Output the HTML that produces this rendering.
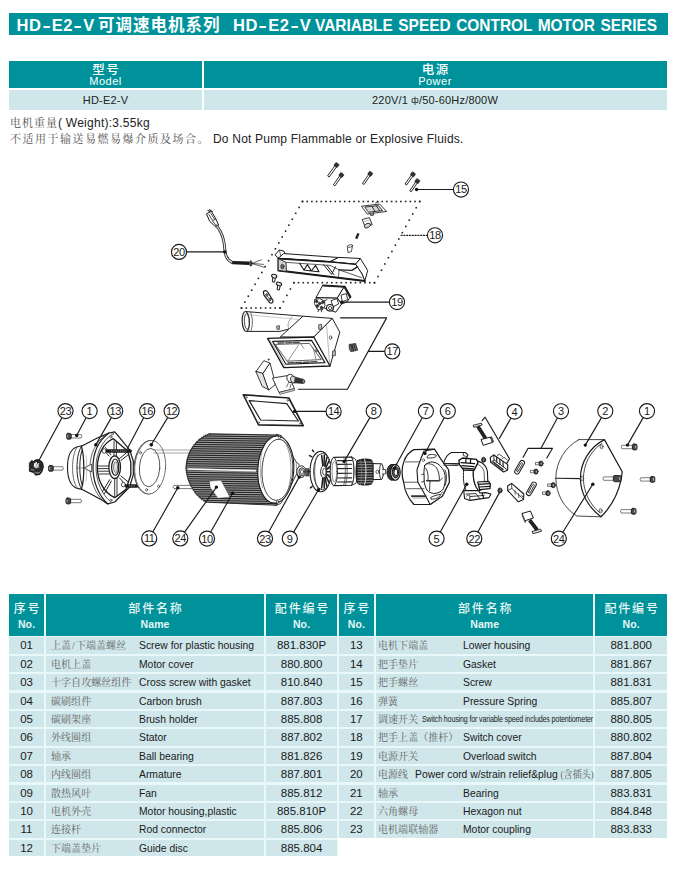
<!DOCTYPE html>
<html lang="zh">
<head>
<meta charset="utf-8">
<title>HD-E2-V</title>
<style>
html,body{margin:0;padding:0;background:#fff;}
body{width:684px;height:871px;position:relative;overflow:hidden;font-family:"Liberation Sans","Noto Sans CJK SC",sans-serif;color:#222;}
.abs{position:absolute;}
.teal{background:#00929a;}
.light{background:#cfe7ea;}
#title{left:9px;top:13px;width:659px;height:22px;}
#title span{position:absolute;top:0.5px;line-height:22px;font-size:16.5px;font-weight:bold;color:#fff;white-space:nowrap;}
#title i{font-style:normal;display:inline-block;transform:scaleX(1.5);margin:0 2px;}
#t1{left:7.5px;letter-spacing:0.6px;}
#t2{left:89px;letter-spacing:1px;font-size:16.5px;}
#t3{left:224px;letter-spacing:0.6px;}
#t4{left:306px;letter-spacing:0;word-spacing:1.2px;font-size:16px;transform-origin:0 50%;transform:scaleX(0.937);}
.nt{font-size:12px;line-height:15px;white-space:nowrap;color:#222;}
.nt.song{font-size:11px;color:#505050;}
.c{position:absolute;text-align:center;white-space:nowrap;}
.w{color:#fff;}
.song{font-family:"Liberation Serif","Noto Serif CJK SC",serif;color:#777;}
.hz{font-size:12px;line-height:16px;letter-spacing:1.8px;text-indent:1.8px;font-weight:500;color:#e6f7f7;}
.he{font-size:10.5px;line-height:14px;letter-spacing:0.1px;font-weight:bold;color:#e6f7f7;}
.tx{font-size:11.5px;line-height:17px;height:16.4px;white-space:nowrap;color:#1a1a1a;}
.tx.song,.tx .song{color:#646464;font-size:10px;letter-spacing:0.05px;}
.en{transform-origin:0 50%;transform:scaleX(0.9);}
.sm17{font-size:9px;letter-spacing:-0.2px;transform-origin:0 50%;transform:scaleX(0.79);}
#dg text{font-family:"Liberation Sans",sans-serif;}
</style>
</head>
<body>
<div id="title" class="abs teal"><span id="t1">HD<i>-</i>E2<i>-</i>V</span><span id="t2">可调速电机系列</span><span id="t3">HD<i>-</i>E2<i>-</i>V</span><span id="t4">VARIABLE SPEED CONTROL MOTOR SERIES</span></div>

<!-- spec table -->
<div class="abs teal" style="left:9px;top:61px;width:193px;height:27px;"></div>
<div class="abs teal" style="left:203.5px;top:61px;width:463.5px;height:27px;"></div>
<div class="abs light" style="left:9px;top:89.5px;width:193px;height:20.5px;"></div>
<div class="abs light" style="left:203.5px;top:89.5px;width:463.5px;height:20.5px;"></div>
<div class="c w" style="left:9px;width:193px;top:63px;font-size:12.5px;line-height:14px;letter-spacing:1.5px;text-indent:1.5px;font-weight:500;">型号</div>
<div class="c w" style="left:9px;width:193px;top:74.5px;font-size:11px;line-height:13px;letter-spacing:0.5px;">Model</div>
<div class="c w" style="left:203px;width:464px;top:63px;font-size:12.5px;line-height:14px;letter-spacing:1.5px;text-indent:1.5px;font-weight:500;">电源</div>
<div class="c w" style="left:203px;width:464px;top:74.5px;font-size:11px;line-height:13px;letter-spacing:0.5px;">Power</div>
<div class="c" style="left:9px;width:193px;top:91.7px;font-size:11px;line-height:16px;letter-spacing:0.2px;">HD-E2-V</div>
<div class="c" style="left:203px;width:464px;top:91.7px;font-size:11px;line-height:16px;letter-spacing:0.2px;">220V/1 <span style="font-size:9px;position:relative;top:-1px">ф</span>/50-60Hz/800W</div>

<div class="abs nt song" id="wt1" style="left:10px;top:116px;letter-spacing:1px;">电机重量</div>
<div class="abs nt" id="wt2" style="left:58px;top:116px;letter-spacing:0.25px;">( Weight):3.55kg</div>
<div class="abs nt song" id="dn1" style="left:10px;top:131.5px;letter-spacing:1.5px;">不适用于输送易燃易爆介质及场合。</div>
<div class="abs nt" id="dn2" style="left:213px;top:131.5px;letter-spacing:0.2px;">Do Not Pump Flammable or Explosive Fluids.</div>
<svg id="dg" class="abs" style="left:0;top:150px;" width="684" height="430" viewBox="0 150 684 430" fill="none" stroke="#333" stroke-width="0.8" stroke-linejoin="round" stroke-linecap="round">
<rect x="301.7" y="200.7" width="1.6" height="1.6" fill="#222" stroke="none"/>
<rect x="306.4" y="200.7" width="1.6" height="1.6" fill="#222" stroke="none"/>
<rect x="311.1" y="200.7" width="1.6" height="1.6" fill="#222" stroke="none"/>
<rect x="315.8" y="200.7" width="1.6" height="1.6" fill="#222" stroke="none"/>
<rect x="320.5" y="200.7" width="1.6" height="1.6" fill="#222" stroke="none"/>
<rect x="325.1" y="200.7" width="1.6" height="1.6" fill="#222" stroke="none"/>
<rect x="329.8" y="200.7" width="1.6" height="1.6" fill="#222" stroke="none"/>
<rect x="334.5" y="200.7" width="1.6" height="1.6" fill="#222" stroke="none"/>
<rect x="339.2" y="200.7" width="1.6" height="1.6" fill="#222" stroke="none"/>
<rect x="343.9" y="200.7" width="1.6" height="1.6" fill="#222" stroke="none"/>
<rect x="348.6" y="200.7" width="1.6" height="1.6" fill="#222" stroke="none"/>
<rect x="353.3" y="200.7" width="1.6" height="1.6" fill="#222" stroke="none"/>
<rect x="358.0" y="200.7" width="1.6" height="1.6" fill="#222" stroke="none"/>
<rect x="362.6" y="200.7" width="1.6" height="1.6" fill="#222" stroke="none"/>
<rect x="367.3" y="200.7" width="1.6" height="1.6" fill="#222" stroke="none"/>
<rect x="372.0" y="200.7" width="1.6" height="1.6" fill="#222" stroke="none"/>
<rect x="376.7" y="200.7" width="1.6" height="1.6" fill="#222" stroke="none"/>
<rect x="381.4" y="200.7" width="1.6" height="1.6" fill="#222" stroke="none"/>
<rect x="386.1" y="200.7" width="1.6" height="1.6" fill="#222" stroke="none"/>
<rect x="390.8" y="200.7" width="1.6" height="1.6" fill="#222" stroke="none"/>
<rect x="395.5" y="200.7" width="1.6" height="1.6" fill="#222" stroke="none"/>
<rect x="400.1" y="200.7" width="1.6" height="1.6" fill="#222" stroke="none"/>
<rect x="404.8" y="200.7" width="1.6" height="1.6" fill="#222" stroke="none"/>
<rect x="409.5" y="200.7" width="1.6" height="1.6" fill="#222" stroke="none"/>
<rect x="414.2" y="200.7" width="1.6" height="1.6" fill="#222" stroke="none"/>
<rect x="418.9" y="200.7" width="1.6" height="1.6" fill="#222" stroke="none"/>
<rect x="418.9" y="200.7" width="1.6" height="1.6" fill="#222" stroke="none"/>
<rect x="415.4" y="206.9" width="1.6" height="1.6" fill="#222" stroke="none"/>
<rect x="411.9" y="213.2" width="1.6" height="1.6" fill="#222" stroke="none"/>
<rect x="408.5" y="219.4" width="1.6" height="1.6" fill="#222" stroke="none"/>
<rect x="405.0" y="225.7" width="1.6" height="1.6" fill="#222" stroke="none"/>
<rect x="401.5" y="231.9" width="1.6" height="1.6" fill="#222" stroke="none"/>
<rect x="398.0" y="238.2" width="1.6" height="1.6" fill="#222" stroke="none"/>
<rect x="394.6" y="244.4" width="1.6" height="1.6" fill="#222" stroke="none"/>
<rect x="391.1" y="250.7" width="1.6" height="1.6" fill="#222" stroke="none"/>
<rect x="387.6" y="256.9" width="1.6" height="1.6" fill="#222" stroke="none"/>
<rect x="384.1" y="263.2" width="1.6" height="1.6" fill="#222" stroke="none"/>
<rect x="380.7" y="269.4" width="1.6" height="1.6" fill="#222" stroke="none"/>
<rect x="377.2" y="275.7" width="1.6" height="1.6" fill="#222" stroke="none"/>
<rect x="373.7" y="281.9" width="1.6" height="1.6" fill="#222" stroke="none"/>
<rect x="373.7" y="281.9" width="1.6" height="1.6" fill="#222" stroke="none"/>
<rect x="369.0" y="281.9" width="1.6" height="1.6" fill="#222" stroke="none"/>
<rect x="364.2" y="281.9" width="1.6" height="1.6" fill="#222" stroke="none"/>
<rect x="359.5" y="281.9" width="1.6" height="1.6" fill="#222" stroke="none"/>
<rect x="354.7" y="281.9" width="1.6" height="1.6" fill="#222" stroke="none"/>
<rect x="350.0" y="281.9" width="1.6" height="1.6" fill="#222" stroke="none"/>
<rect x="345.2" y="281.9" width="1.6" height="1.6" fill="#222" stroke="none"/>
<rect x="340.5" y="281.9" width="1.6" height="1.6" fill="#222" stroke="none"/>
<rect x="335.7" y="281.9" width="1.6" height="1.6" fill="#222" stroke="none"/>
<rect x="331.0" y="281.9" width="1.6" height="1.6" fill="#222" stroke="none"/>
<rect x="326.2" y="281.9" width="1.6" height="1.6" fill="#222" stroke="none"/>
<rect x="321.5" y="281.9" width="1.6" height="1.6" fill="#222" stroke="none"/>
<rect x="316.7" y="281.9" width="1.6" height="1.6" fill="#222" stroke="none"/>
<rect x="312.0" y="281.9" width="1.6" height="1.6" fill="#222" stroke="none"/>
<rect x="307.2" y="281.9" width="1.6" height="1.6" fill="#222" stroke="none"/>
<rect x="302.5" y="281.9" width="1.6" height="1.6" fill="#222" stroke="none"/>
<rect x="297.7" y="281.9" width="1.6" height="1.6" fill="#222" stroke="none"/>
<rect x="293.0" y="281.9" width="1.6" height="1.6" fill="#222" stroke="none"/>
<rect x="293.0" y="281.9" width="1.6" height="1.6" fill="#222" stroke="none"/>
<rect x="289.6" y="288.2" width="1.6" height="1.6" fill="#222" stroke="none"/>
<rect x="286.1" y="294.6" width="1.6" height="1.6" fill="#222" stroke="none"/>
<rect x="282.6" y="300.9" width="1.6" height="1.6" fill="#222" stroke="none"/>
<rect x="279.2" y="307.2" width="1.6" height="1.6" fill="#222" stroke="none"/>
<rect x="279.2" y="307.2" width="1.6" height="1.6" fill="#222" stroke="none"/>
<rect x="274.4" y="307.2" width="1.6" height="1.6" fill="#222" stroke="none"/>
<rect x="269.6" y="307.2" width="1.6" height="1.6" fill="#222" stroke="none"/>
<rect x="264.8" y="307.2" width="1.6" height="1.6" fill="#222" stroke="none"/>
<rect x="259.9" y="307.2" width="1.6" height="1.6" fill="#222" stroke="none"/>
<rect x="255.1" y="307.2" width="1.6" height="1.6" fill="#222" stroke="none"/>
<rect x="250.3" y="307.2" width="1.6" height="1.6" fill="#222" stroke="none"/>
<rect x="245.5" y="307.2" width="1.6" height="1.6" fill="#222" stroke="none"/>
<rect x="240.7" y="307.2" width="1.6" height="1.6" fill="#222" stroke="none"/>
<rect x="240.7" y="307.2" width="1.6" height="1.6" fill="#222" stroke="none"/>
<rect x="244.1" y="301.3" width="1.6" height="1.6" fill="#222" stroke="none"/>
<rect x="247.5" y="295.4" width="1.6" height="1.6" fill="#222" stroke="none"/>
<rect x="250.9" y="289.4" width="1.6" height="1.6" fill="#222" stroke="none"/>
<rect x="254.3" y="283.5" width="1.6" height="1.6" fill="#222" stroke="none"/>
<rect x="257.6" y="277.6" width="1.6" height="1.6" fill="#222" stroke="none"/>
<rect x="261.0" y="271.7" width="1.6" height="1.6" fill="#222" stroke="none"/>
<rect x="264.4" y="265.8" width="1.6" height="1.6" fill="#222" stroke="none"/>
<rect x="267.8" y="259.9" width="1.6" height="1.6" fill="#222" stroke="none"/>
<rect x="271.2" y="253.9" width="1.6" height="1.6" fill="#222" stroke="none"/>
<rect x="274.6" y="248.0" width="1.6" height="1.6" fill="#222" stroke="none"/>
<rect x="278.0" y="242.1" width="1.6" height="1.6" fill="#222" stroke="none"/>
<rect x="281.4" y="236.2" width="1.6" height="1.6" fill="#222" stroke="none"/>
<rect x="284.8" y="230.3" width="1.6" height="1.6" fill="#222" stroke="none"/>
<rect x="288.1" y="224.4" width="1.6" height="1.6" fill="#222" stroke="none"/>
<rect x="291.5" y="218.4" width="1.6" height="1.6" fill="#222" stroke="none"/>
<rect x="294.9" y="212.5" width="1.6" height="1.6" fill="#222" stroke="none"/>
<rect x="298.3" y="206.6" width="1.6" height="1.6" fill="#222" stroke="none"/>
<rect x="301.7" y="200.7" width="1.6" height="1.6" fill="#222" stroke="none"/>
<polygon points="336.3,163.7 327.6,175.9 329.2,177.1 337.9,164.9" fill="#fff" stroke="#222" stroke-width="0.95" />
<polygon points="335.8,162.8 334.0,165.3 337.1,167.5 338.9,165.0" fill="#333" stroke="#1a1a1a" stroke-width="0.8" />
<polygon points="341.1,173.8 333.4,184.8 335.0,185.8 342.7,174.8" fill="#fff" stroke="#222" stroke-width="0.95" />
<polygon points="340.6,172.8 338.9,175.3 342.0,177.5 343.7,175.0" fill="#333" stroke="#1a1a1a" stroke-width="0.8" />
<polygon points="370.0,172.5 362.4,183.5 364.0,184.5 371.6,173.5" fill="#fff" stroke="#222" stroke-width="0.95" />
<polygon points="369.5,171.5 367.8,174.1 370.9,176.2 372.6,173.7" fill="#333" stroke="#1a1a1a" stroke-width="0.8" />
<polygon points="412.7,173.1 405.0,184.0 406.6,185.0 414.3,174.1" fill="#fff" stroke="#222" stroke-width="0.95" />
<polygon points="412.2,172.1 410.4,174.6 413.6,176.8 415.3,174.3" fill="#333" stroke="#1a1a1a" stroke-width="0.8" />
<polygon points="417.1,179.9 409.7,190.8 411.3,191.8 418.7,180.9" fill="#fff" stroke="#222" stroke-width="0.95" />
<polygon points="416.6,178.9 414.9,181.5 418.0,183.6 419.8,181.1" fill="#333" stroke="#1a1a1a" stroke-width="0.8" />
<path d="M208,210.4 L210.6,212.4 M209.6,209.6 L212.2,211.6" fill="none" stroke="#222" stroke-width="1.1" />
<path d="M206.8,213.6 L211.4,211.4 L215.4,218 L218.6,225 L215.6,226.8 L210,221.6 Z" fill="#fff" stroke="#1a1a1a" stroke-width="1.0" />
<path d="M209,214.6 L212.6,220.6 L215.4,219.4 M211,213.6 L214.6,219.4 M212.6,221 L216,225.4" fill="none" stroke="#222" stroke-width="0.8" />
<path d="M217,226 C221,231.5 223.8,238 224.5,246 C224.9,253 225.6,259.6 232.4,262.6" fill="none" stroke="#2a2a2a" stroke-width="2.9" />
<path d="M217,226 C221,231.5 223.8,238 224.5,246 C224.9,253 225.6,259.6 232.4,262.6" fill="none" stroke="#eee" stroke-width="1.1" />
<line x1="232.3" y1="262.6" x2="249.2" y2="263.3" stroke="#1a1a1a" stroke-width="3.4" stroke-linecap="butt"/>
<ellipse cx="250.8" cy="263.4" rx="1.2" ry="2.7" fill="#555" stroke="#1a1a1a" stroke-width="0.8" />
<path d="M252,263.4 L261.5,259.8 M252,263.4 L263.5,264.4 M252,263.6 L264.5,267.4" fill="none" stroke="#222" stroke-width="0.7" />
<polygon points="275.2,254.6 279.3,250.0 284.0,251.2 285.8,255.2 279.4,258.6" fill="#fff" stroke="#1a1a1a" stroke-width="1.0" />
<line x1="279.3" y1="250.0" x2="281.0" y2="256.6" stroke="#333" stroke-width="0.7" />
<polygon points="284.0,253.6 338.7,257.5 329.9,261.7 278.5,258.4" fill="#fff" stroke="#1a1a1a" stroke-width="1.0" />
<polygon points="329.9,261.7 338.7,257.4 360.4,258.5 355.6,264.1" fill="#fff" stroke="#1a1a1a" stroke-width="1.0" />
<polygon points="355.6,264.1 360.4,258.5 367.7,270.5 364.8,281.0 362.0,274.0" fill="#fff" stroke="#1a1a1a" stroke-width="1.0" />
<polygon points="278.5,258.4 329.9,261.7 355.6,264.1 362.0,274.0 364.8,281.0 278.5,270.5" fill="#fff" stroke="#1a1a1a" stroke-width="1.0" />
<line x1="278.5" y1="270.5" x2="364.8" y2="281.0" stroke="#1a1a1a" stroke-width="2.0" />
<line x1="278.5" y1="258.6" x2="329.9" y2="261.9" stroke="#1a1a1a" stroke-width="1.7" />
<line x1="329.9" y1="261.9" x2="355.6" y2="264.3" stroke="#1a1a1a" stroke-width="1.2" />
<path d="M286,262.4 L330,265.4 L339,269.8 L361.4,277.6" fill="none" stroke="#333" stroke-width="0.8" />
<path d="M339,269.8 L352,270.4 L357.6,266.6" fill="none" stroke="#222" stroke-width="1.3" />
<path d="M339,269.8 L338.6,276.8" fill="none" stroke="#333" stroke-width="0.8" />
<path d="M299.6,263.4 L304,270 L307.4,264.6 L311.4,271 L315.6,265.4 L319,271.8 M304,270 L311.4,271 L319,271.8" fill="none" stroke="#1a1a1a" stroke-width="1.1" />
<path d="M323.6,264.8 L331.6,274.4 L335.6,266.6 M327,265.4 L334,274.8" fill="none" stroke="#222" stroke-width="1.0" />
<polygon points="278.5,258.6 286.0,262.4 286.4,271.4 278.5,270.5" fill="#d0d0d0" stroke="#1a1a1a" stroke-width="0.9" />
<ellipse cx="282.4" cy="266.6" rx="1.7" ry="2.4" fill="#666" stroke="#222" stroke-width="0.6" />
<polygon points="361.8,206.2 379.6,204.0 386.6,211.4 367.6,214.0" fill="#fff" stroke="#222" stroke-width="0.9" />
<polygon points="365.2,207.0 378.4,205.6 382.6,210.6 368.8,212.2" fill="#d8d8d8" stroke="#222" stroke-width="0.9" />
<path d="M372,206.4 L375,211.4 M376.6,206 L379.6,210.8" fill="none" stroke="#222" stroke-width="0.9" />
<path d="M370,212.6 L370.6,215.4 L373.6,215.2 L373.4,212.2" fill="#888" stroke="#222" stroke-width="0.7" />
<line x1="375.5" y1="203.0" x2="378.6" y2="201.8" stroke="#333" stroke-width="0.8" />
<path d="M362.6,219.4 L369.4,217.6 L372.2,224.6 L365.8,227.6 Z" fill="#fff" stroke="#222" stroke-width="0.9" />
<ellipse cx="367.4" cy="225.6" rx="3.4" ry="2.1" fill="#ccc" stroke="#222" stroke-width="0.8" transform="rotate(-25 367.4 225.6)" />
<line x1="364.4" y1="221.4" x2="370.6" y2="219.6" stroke="#777" stroke-width="0.5" />
<line x1="358.4" y1="233.4" x2="356.2" y2="238.8" stroke="#222" stroke-width="2.4" stroke-linecap="butt"/>
<path d="M347.6,246.4 L352.6,245.4 L351.4,251.6 L348.4,252.4 Z" fill="#fff" stroke="#222" stroke-width="0.8" />
<ellipse cx="350.1" cy="246.0" rx="2.6" ry="1.2" fill="#fff" stroke="#222" stroke-width="0.7" transform="rotate(-12 350.1 246.0)" />
<path d="M272.9,277.2 L272.3,281.8 L274.5,282.2 L275.5,277.6" fill="#fff" stroke="#1a1a1a" stroke-width="1.0" />
<ellipse cx="274.2" cy="276.2" rx="2.7" ry="1.7" fill="#eee" stroke="#1a1a1a" stroke-width="1.1" transform="rotate(20 274.2 276.2)" />
<path d="M277.7,285.0 L277.1,289.6 L279.3,290.0 L280.3,285.4" fill="#fff" stroke="#1a1a1a" stroke-width="1.0" />
<ellipse cx="279.0" cy="284.0" rx="2.7" ry="1.7" fill="#eee" stroke="#1a1a1a" stroke-width="1.1" transform="rotate(20 279.0 284.0)" />
<path d="M263.4,291.6 C265.3,289.8 267,290.8 268.2,292.8 L272.8,300.2 C273.6,302.6 271.4,304 269.6,302.6 L263.8,294.8 Z" fill="#fff" stroke="#1a1a1a" stroke-width="1.2" />
<ellipse cx="266.8" cy="295.0" rx="1.0" ry="1.4" fill="#888" stroke="#1a1a1a" stroke-width="0.6" transform="rotate(-30 266.8 295.0)" />
<ellipse cx="270.0" cy="299.4" rx="1.0" ry="1.3" fill="#888" stroke="#1a1a1a" stroke-width="0.6" transform="rotate(-30 270.0 299.4)" />
<line x1="267.6" y1="296.4" x2="269.2" y2="298.4" stroke="#333" stroke-width="0.7" />
<polygon points="323.0,285.5 344.5,286.8 337.5,298.2 316.4,297.7" fill="#fff" stroke="#1a1a1a" stroke-width="1.0" />
<line x1="323.0" y1="285.5" x2="344.5" y2="286.8" stroke="#222" stroke-width="1.9" />
<polygon points="316.4,297.7 337.5,298.2 341.6,304.0 335.7,312.2 318.0,305.6" fill="#fff" stroke="#1a1a1a" stroke-width="1.0" />
<polygon points="344.5,286.8 350.2,296.9 347.1,301.9 341.6,304.0 337.5,298.2" fill="#fff" stroke="#1a1a1a" stroke-width="1.0" />
<line x1="344.7" y1="287.0" x2="350.2" y2="296.9" stroke="#222" stroke-width="2.4" />
<polygon points="341.4,295.0 346.4,293.6 347.6,299.6 342.6,301.6" fill="#fff" stroke="#222" stroke-width="0.9" />
<path d="M331.4,300.6 L337,298.6 L338.6,304 L333.4,306.6 Z" fill="#fff" stroke="#222" stroke-width="0.9" />
<ellipse cx="330.0" cy="307.8" rx="3.5" ry="3.3" fill="#fff" stroke="#1a1a1a" stroke-width="1.1" />
<ellipse cx="330.2" cy="308.0" rx="1.7" ry="1.6" fill="#fff" stroke="#222" stroke-width="0.8" />
<path d="M315,299.4 L319.6,298.6 L324.6,301 L325,306 L322,310 L317.6,309.4 L314.6,304 Z" fill="#fff" stroke="#222" stroke-width="0.9" />
<ellipse cx="316.6" cy="301.4" rx="1.3" ry="1.4" fill="#333" stroke="#111" stroke-width="0.5" />
<ellipse cx="319.6" cy="303.6" rx="1.3" ry="1.4" fill="#333" stroke="#111" stroke-width="0.5" />
<ellipse cx="317.4" cy="306.0" rx="1.3" ry="1.4" fill="#333" stroke="#111" stroke-width="0.5" />
<ellipse cx="321.4" cy="307.6" rx="1.3" ry="1.4" fill="#333" stroke="#111" stroke-width="0.5" />
<ellipse cx="322.6" cy="302.4" rx="1.3" ry="1.4" fill="#333" stroke="#111" stroke-width="0.5" />
<path d="M318.6,309.8 L318,311.6 M321.6,310 L321.6,311.8 M324,301 L327,299.6" fill="none" stroke="#222" stroke-width="0.9" />
<path d="M246.4,311.6 L303,316.2 L300,326 L280,331.4 L247.2,331.4 Z" fill="#fff" stroke="#222" stroke-width="1.0" />
<line x1="250.0" y1="315.0" x2="298.0" y2="319.4" stroke="#999" stroke-width="0.5" />
<path d="M292,317 C288,321 287,326 289,329" fill="none" stroke="#666" stroke-width="0.6" />
<ellipse cx="245.8" cy="321.5" rx="3.6" ry="10.0" fill="#fff" stroke="#222" stroke-width="1.2" transform="rotate(-3 245.8 321.5)" />
<ellipse cx="246.8" cy="321.5" rx="2.4" ry="7.8" fill="#fff" stroke="#333" stroke-width="0.9" transform="rotate(-3 246.8 321.5)" />
<path d="M250.6,312.4 C253,318 253,326 250.8,331" fill="none" stroke="#444" stroke-width="0.8" />
<path d="M276.6,326.4 L277,329.4 L279.6,329.2 L279.4,326 Z" fill="#bbb" stroke="#222" stroke-width="0.7" />
<polygon points="280.6,336.6 303.0,316.2 332.4,318.4 313.8,337.0" fill="#fff" stroke="#222" stroke-width="1.0" />
<polygon points="313.8,337.0 332.4,318.4 339.8,332.3 330.0,366.0" fill="#fff" stroke="#222" stroke-width="1.0" />
<line x1="326.6" y1="325.6" x2="329.6" y2="363.0" stroke="#777" stroke-width="0.5" />
<path d="M318.6,325.2 L318.8,329.4 L321.8,329.2 L321.6,324.6 Z" fill="#bbb" stroke="#222" stroke-width="0.7" />
<ellipse cx="330.6" cy="337.6" rx="1.2" ry="1.8" fill="#fff" stroke="#222" stroke-width="0.7" />
<path d="M332.6,351.4 L332.4,356 L335.4,355.6 L335.4,351 Z" fill="#bbb" stroke="#222" stroke-width="0.7" />
<polygon points="267.6,338.4 313.8,337.0 330.0,366.0 283.8,367.6" fill="#fff" stroke="#1a1a1a" stroke-width="1.3" />
<polygon points="272.6,341.4 311.6,340.4 325.0,362.6 286.0,364.2" fill="#fff" stroke="#1a1a1a" stroke-width="1.1" />
<polygon points="275.6,344.4 309.4,343.4 321.2,359.6 287.6,361.2" fill="#fff" stroke="#333" stroke-width="0.8" />
<line x1="269.6" y1="339.6" x2="285.0" y2="366.4" stroke="#666" stroke-width="0.5" />
<path d="M278,343 L300,342.4 M288,363 L318,361.6" fill="none" stroke="#444" stroke-width="1.3" stroke-dasharray="6 1.6"/>
<path d="M287.6,361.4 L298.6,345 M300.6,343.8 L304,348.6 M313,347.6 L316,359" fill="none" stroke="#444" stroke-width="0.6" />
<ellipse cx="316.6" cy="350.4" rx="1.1" ry="1.6" fill="#888" stroke="#222" stroke-width="0.5" />
<path d="M349.6,344.4 L355.6,343.6 L357.6,350.2 L351.6,351.6 Z" fill="#333" stroke="#222" stroke-width="0.8" />
<path d="M351,345 L352.6,351 M353,344.6 L354.6,350.6 M355,344.4 L356.4,350.2" fill="none" stroke="#aaa" stroke-width="0.5" />
<ellipse cx="350.6" cy="348.0" rx="1.4" ry="3.5" fill="#666" stroke="#222" stroke-width="0.6" transform="rotate(-12 350.6 348.0)" />
<polygon points="256.1,371.4 263.8,360.7 270.0,363.0 263.0,373.4" fill="#fff" stroke="#222" stroke-width="0.9" />
<polygon points="256.1,371.4 263.0,373.4 268.9,389.9 262.6,386.6" fill="#e2e2e2" stroke="#222" stroke-width="0.9" />
<polygon points="263.0,373.4 270.0,363.0 275.6,384.2 268.9,389.9" fill="#fff" stroke="#222" stroke-width="0.9" />
<ellipse cx="268.6" cy="359.6" rx="0.8" ry="0.8" fill="#666" stroke="#333" stroke-width="0.4" />
<polygon points="272.8,378.0 288.6,375.4 294.4,388.6 279.4,392.4" fill="#fff" stroke="#222" stroke-width="0.9" />
<polygon points="279.4,392.4 294.4,388.6 294.6,390.4 280.2,394.2" fill="#ddd" stroke="#222" stroke-width="0.6" />
<ellipse cx="290.6" cy="378.4" rx="3.6" ry="4.2" fill="#fff" stroke="#222" stroke-width="0.9" transform="rotate(-20 290.6 378.4)" />
<ellipse cx="293.4" cy="379.6" rx="2.8" ry="3.6" fill="#ddd" stroke="#222" stroke-width="0.8" transform="rotate(-20 293.4 379.6)" />
<path d="M295.6,377.2 L303.6,379.4 L303,383.4 L294.6,382.8 Z" fill="#333" stroke="#222" stroke-width="0.7" />
<ellipse cx="303.6" cy="381.4" rx="1.2" ry="2.1" fill="#999" stroke="#222" stroke-width="0.6" transform="rotate(-10 303.6 381.4)" />
<path d="M288.6,382.6 L286.6,387 M291,384 L290,388" fill="none" stroke="#333" stroke-width="0.7" />
<polygon points="243.4,394.8 288.8,398.0 303.2,425.6 258.6,424.8" fill="#fff" stroke="#222" stroke-width="1.7" />
<polygon points="245.6,396.4 287.8,399.4 300.8,424.2 259.4,423.4" fill="none" stroke="#fff" stroke-width="0.5" />
<polygon points="249.2,400.6 286.8,403.6 298.4,421.0 260.6,420.0" fill="#fff" stroke="#222" stroke-width="1.2" />
<ellipse cx="246.4" cy="397.4" rx="0.8" ry="0.8" fill="#fff" stroke="#222" stroke-width="0.5" />
<ellipse cx="287.6" cy="400.4" rx="0.8" ry="0.8" fill="#fff" stroke="#222" stroke-width="0.5" />
<ellipse cx="300.2" cy="423.4" rx="0.8" ry="0.8" fill="#fff" stroke="#222" stroke-width="0.5" />
<ellipse cx="258.8" cy="422.6" rx="0.8" ry="0.8" fill="#fff" stroke="#222" stroke-width="0.5" />
<path d="M71.2,434.6 L81.2,434.6 Q82.6,436.3 81.2,438.0 L71.2,438.0 Z" fill="#fff" stroke="#444" stroke-width="0.7" />
<rect x="66.6" y="433.4" width="4.6" height="5.8" rx="1.4" fill="#4a4a4a" stroke="#1a1a1a" stroke-width="0.9"/>
<ellipse cx="67.8" cy="436.3" rx="0.9" ry="1.8" fill="#bbb" stroke="#222" stroke-width="0.4" />
<path d="M53.2,466.7 L62.7,466.7 Q64.1,468.4 62.7,470.1 L53.2,470.1 Z" fill="#fff" stroke="#444" stroke-width="0.7" />
<rect x="48.6" y="465.5" width="4.6" height="5.8" rx="1.4" fill="#4a4a4a" stroke="#1a1a1a" stroke-width="0.9"/>
<ellipse cx="49.8" cy="468.4" rx="0.9" ry="1.8" fill="#bbb" stroke="#222" stroke-width="0.4" />
<path d="M70.6,499.3 L80.8,499.3 Q82.2,501.0 80.8,502.7 L70.6,502.7 Z" fill="#fff" stroke="#444" stroke-width="0.7" />
<rect x="66.0" y="498.1" width="4.6" height="5.8" rx="1.4" fill="#4a4a4a" stroke="#1a1a1a" stroke-width="0.9"/>
<ellipse cx="67.2" cy="501.0" rx="0.9" ry="1.8" fill="#bbb" stroke="#222" stroke-width="0.4" />
<path d="M632.4,445.3 L621.8,445.3 Q620.4,447.0 621.8,448.7 L632.4,448.7 Z" fill="#fff" stroke="#444" stroke-width="0.7" />
<rect x="632.4" y="444.1" width="4.6" height="5.8" rx="1.4" fill="#4a4a4a" stroke="#1a1a1a" stroke-width="0.9"/>
<ellipse cx="635.8" cy="447.0" rx="0.9" ry="1.8" fill="#ccc" stroke="#222" stroke-width="0.4" />
<path d="M650.2,477.7 L640.8,477.7 Q639.4,479.4 640.8,481.1 L650.2,481.1 Z" fill="#fff" stroke="#444" stroke-width="0.7" />
<rect x="650.2" y="476.5" width="4.6" height="5.8" rx="1.4" fill="#4a4a4a" stroke="#1a1a1a" stroke-width="0.9"/>
<ellipse cx="653.6" cy="479.4" rx="0.9" ry="1.8" fill="#ccc" stroke="#222" stroke-width="0.4" />
<path d="M631.4,509.6 L621.2,509.6 Q619.8,511.3 621.2,513.0 L631.4,513.0 Z" fill="#fff" stroke="#444" stroke-width="0.7" />
<rect x="631.4" y="508.4" width="4.6" height="5.8" rx="1.4" fill="#4a4a4a" stroke="#1a1a1a" stroke-width="0.9"/>
<ellipse cx="634.8" cy="511.3" rx="0.9" ry="1.8" fill="#ccc" stroke="#222" stroke-width="0.4" />
<path d="M29.6,463 L31.6,460.6 L33.6,461.4 C35,459.4 38.6,459 40.4,460.6 L42.6,462.4 L43.4,467 L42,471.6 L40,474.4 L35.6,475.2 L33.4,472.4 L29.8,471.4 Z" fill="#2a2a2a" stroke="#111" stroke-width="0.9" />
<ellipse cx="36.6" cy="465.2" rx="3.3" ry="3.5" fill="#fff" stroke="#111" stroke-width="0.9" />
<ellipse cx="37.4" cy="465.8" rx="1.6" ry="1.8" fill="#ddd" stroke="#555" stroke-width="0.5" />
<path d="M31.4,469.6 L34,470.2 M35,472.6 C37,473.6 39,473.2 40.4,471.8" fill="none" stroke="#bbb" stroke-width="0.8" />
<path d="M77.4,446.7 C70,449 67.5,458 67.5,467.2 C67.5,477 70,486 77.4,488.4 L82,489.4 C85.4,480 85.4,455 82,445.8 Z" fill="#fff" stroke="#222" stroke-width="1.1" />
<path d="M77.4,446.7 C73.6,452 72.6,460 72.6,467.4 C72.6,475 73.6,483 77.4,488.4" fill="none" stroke="#444" stroke-width="0.8" />
<path d="M81.4,446.4 C78,452 77,460 77,467.4 C77,475 78,483 81.4,488.6" fill="none" stroke="#222" stroke-width="1.0" />
<path d="M83.8,445.8 C80.6,452 79.8,460 79.8,467.4 C79.8,475 80.6,483 83.8,489.4" fill="none" stroke="#222" stroke-width="1.0" />
<path d="M81.4,446.2 L97.3,438 L109,433 L114.7,431.8 L118.4,436.2 L129.6,449.8 L133.3,461 L133.3,474.7 L129.6,487 L114.7,502 L107.8,503.9 L101,499.5 L81.4,489 C84.6,480 84.6,456 81.4,446.2 Z" fill="#fff" stroke="#1a1a1a" stroke-width="1.2" />
<path d="M109,433 C98,441 93,454 93,467.2 C93,481 98,495 107.8,503.9" fill="none" stroke="#1a1a1a" stroke-width="1.2" />
<path d="M106,434.6 C95,442 90,455 90,467.2 C90,480 95,494 104,501.6" fill="none" stroke="#444" stroke-width="0.8" />
<path d="M111.6,434.6 C101,442 96,455 96,467.2 C96,480 101,494 110.6,501.6" fill="none" stroke="#333" stroke-width="0.8" />
<path d="M113.4,438.7 L127.7,451 L130.8,462.3 L130.8,474.7 L125.8,489.6 L114.7,497.7 C103,492 97.6,480 97.3,467.2 C97.6,455 103,443 113.4,438.7 Z" fill="#fff" stroke="#1a1a1a" stroke-width="1.3" />
<path d="M114,441 L114,456 M114.7,478.4 L114.7,497 M116.4,441.4 L116.4,456.6 M117,478 L117,496" fill="none" stroke="#222" stroke-width="0.9" />
<path d="M98.5,466 L109,466 M98.2,468.6 L109,468.6 M98.6,471.2 L109,471.2 M99.2,474 L109.4,474" fill="none" stroke="#222" stroke-width="0.9" />
<path d="M119.6,458.5 L127.7,451.7 M121,460.4 L128.6,454.4 M120.9,476 L128.8,482.4 M119.6,478 L126.6,486" fill="none" stroke="#222" stroke-width="1.0" />
<path d="M109.7,479.7 L102.2,492 M111.4,481 L104.4,493.6 M109,456 L103.5,449.8 M110.8,454.8 L105.6,447.6" fill="none" stroke="#222" stroke-width="1.0" />
<ellipse cx="114.7" cy="467.2" rx="5.8" ry="11.4" fill="#fff" stroke="#1a1a1a" stroke-width="1.2" />
<ellipse cx="115.2" cy="467.2" rx="3.6" ry="8.2" fill="#fff" stroke="#1a1a1a" stroke-width="1.2" />
<ellipse cx="115.6" cy="467.2" rx="2.0" ry="5.6" fill="#e4e4e4" stroke="#444" stroke-width="0.7" />
<ellipse cx="104.2" cy="451.0" rx="2.0" ry="2.3" fill="#fff" stroke="#222" stroke-width="0.8" />
<ellipse cx="123.4" cy="484.6" rx="2.0" ry="2.3" fill="#fff" stroke="#222" stroke-width="0.8" />
<ellipse cx="110.9" cy="436.8" rx="1.1" ry="1.2" fill="#fff" stroke="#222" stroke-width="0.6" />
<ellipse cx="110.9" cy="500.2" rx="1.1" ry="1.2" fill="#fff" stroke="#222" stroke-width="0.6" />
<ellipse cx="112.6" cy="434.0" rx="0.9" ry="0.9" fill="#fff" stroke="#222" stroke-width="0.5" />
<path d="M84.2,467.9 L91.7,464.1 L91.7,471.6 Z" fill="#fff" stroke="#222" stroke-width="0.8" />
<line x1="76.0" y1="467.9" x2="84.2" y2="467.9" stroke="#555" stroke-width="0.6" />
<path d="M86,455 C87,462 87,474 86,481" fill="none" stroke="#888" stroke-width="0.5" />
<line x1="107.4" y1="451.0" x2="130.2" y2="451.0" stroke="#1a1a1a" stroke-width="3.5" stroke-linecap="round"/>
<line x1="111.0" y1="451.0" x2="126.6" y2="451.0" stroke="#bbb" stroke-width="0.9" stroke-dasharray="0.9 0.9" stroke-linecap="butt"/>
<line x1="126.6" y1="485.9" x2="137.0" y2="485.9" stroke="#1a1a1a" stroke-width="3.5" stroke-linecap="round"/>
<line x1="129.0" y1="485.9" x2="135.0" y2="485.9" stroke="#bbb" stroke-width="0.9" stroke-dasharray="0.9 0.9" stroke-linecap="butt"/>
<ellipse cx="149.4" cy="467.2" rx="15.4" ry="26.8" fill="#fff" stroke="#333" stroke-width="0.9" transform="rotate(4 149.4 467.2)" />
<ellipse cx="150.2" cy="467.2" rx="15.4" ry="26.8" fill="#fff" stroke="#444" stroke-width="0.7" transform="rotate(4 150.2 467.2)" />
<ellipse cx="149.6" cy="467.6" rx="10.2" ry="19.2" fill="#fff" stroke="#333" stroke-width="0.8" transform="rotate(4 149.6 467.6)" />
<ellipse cx="151.4" cy="444.8" rx="1.0" ry="1.3" fill="#fff" stroke="#222" stroke-width="0.6" />
<ellipse cx="140.4" cy="452.6" rx="1.0" ry="1.3" fill="#fff" stroke="#222" stroke-width="0.6" />
<ellipse cx="158.6" cy="486.4" rx="1.0" ry="1.3" fill="#fff" stroke="#222" stroke-width="0.6" />
<ellipse cx="146.6" cy="489.8" rx="1.0" ry="1.3" fill="#fff" stroke="#222" stroke-width="0.6" />
<path d="M153.6,450 L198,450 M153.6,453 L198,453" fill="none" stroke="#666" stroke-width="0.6" />
<path d="M174.4,485.4 L200,485.4 M174.4,488.6 L200,488.6 M174.4,485.4 C172.6,485.6 172.6,488.4 174.4,488.6" fill="none" stroke="#444" stroke-width="0.7" />
<path d="M276.4,434.4 L281.4,435.6 L283.6,440 L296.4,462.4 L296.6,474 L285,497 L280.6,503.6 L275,505.4 Z" fill="#fff" stroke="#222" stroke-width="0.9" />
<defs><clipPath id="bodyclip"><path d="M209.8,433.8 L278.2,435 L277,505.3 L206.4,502.2 C196,497 187,483 186.2,468.6 C186,453 196,438 209.8,433.8 Z"/></clipPath></defs>
<g clip-path="url(#bodyclip)">
<rect x="180" y="430" width="105" height="80" fill="#262626" stroke="none"/>
<line x1="183.0" y1="434.6" x2="282.0" y2="436.0" stroke="#b8b8b8" stroke-width="0.85" stroke-linecap="butt"/>
<line x1="183.0" y1="436.8" x2="282.0" y2="438.1" stroke="#b8b8b8" stroke-width="0.85" stroke-linecap="butt"/>
<line x1="183.0" y1="438.9" x2="282.0" y2="440.3" stroke="#b8b8b8" stroke-width="0.85" stroke-linecap="butt"/>
<line x1="183.0" y1="441.0" x2="282.0" y2="442.4" stroke="#b8b8b8" stroke-width="0.85" stroke-linecap="butt"/>
<line x1="183.0" y1="443.2" x2="282.0" y2="444.6" stroke="#b8b8b8" stroke-width="0.85" stroke-linecap="butt"/>
<line x1="183.0" y1="445.3" x2="282.0" y2="446.7" stroke="#b8b8b8" stroke-width="0.85" stroke-linecap="butt"/>
<line x1="183.0" y1="447.5" x2="282.0" y2="448.9" stroke="#b8b8b8" stroke-width="0.85" stroke-linecap="butt"/>
<line x1="183.0" y1="449.6" x2="282.0" y2="451.0" stroke="#b8b8b8" stroke-width="0.85" stroke-linecap="butt"/>
<line x1="183.0" y1="451.8" x2="282.0" y2="453.2" stroke="#b8b8b8" stroke-width="0.85" stroke-linecap="butt"/>
<line x1="183.0" y1="453.9" x2="282.0" y2="455.3" stroke="#b8b8b8" stroke-width="0.85" stroke-linecap="butt"/>
<line x1="183.0" y1="456.1" x2="282.0" y2="457.5" stroke="#b8b8b8" stroke-width="0.85" stroke-linecap="butt"/>
<line x1="183.0" y1="458.2" x2="282.0" y2="459.6" stroke="#b8b8b8" stroke-width="0.85" stroke-linecap="butt"/>
<line x1="183.0" y1="460.4" x2="282.0" y2="461.8" stroke="#b8b8b8" stroke-width="0.85" stroke-linecap="butt"/>
<line x1="183.0" y1="462.5" x2="282.0" y2="463.9" stroke="#b8b8b8" stroke-width="0.85" stroke-linecap="butt"/>
<line x1="183.0" y1="464.7" x2="282.0" y2="466.1" stroke="#b8b8b8" stroke-width="0.85" stroke-linecap="butt"/>
<line x1="183.0" y1="466.8" x2="282.0" y2="468.2" stroke="#b8b8b8" stroke-width="0.85" stroke-linecap="butt"/>
<line x1="183.0" y1="469.0" x2="282.0" y2="470.4" stroke="#b8b8b8" stroke-width="0.85" stroke-linecap="butt"/>
<line x1="183.0" y1="471.1" x2="282.0" y2="472.5" stroke="#b8b8b8" stroke-width="0.85" stroke-linecap="butt"/>
<line x1="183.0" y1="473.3" x2="282.0" y2="474.7" stroke="#b8b8b8" stroke-width="0.85" stroke-linecap="butt"/>
<line x1="183.0" y1="475.4" x2="282.0" y2="476.8" stroke="#b8b8b8" stroke-width="0.85" stroke-linecap="butt"/>
<line x1="183.0" y1="477.6" x2="282.0" y2="479.0" stroke="#b8b8b8" stroke-width="0.85" stroke-linecap="butt"/>
<line x1="183.0" y1="479.7" x2="282.0" y2="481.1" stroke="#b8b8b8" stroke-width="0.85" stroke-linecap="butt"/>
<line x1="183.0" y1="481.9" x2="282.0" y2="483.3" stroke="#b8b8b8" stroke-width="0.85" stroke-linecap="butt"/>
<line x1="183.0" y1="484.0" x2="282.0" y2="485.4" stroke="#b8b8b8" stroke-width="0.85" stroke-linecap="butt"/>
<line x1="183.0" y1="486.2" x2="282.0" y2="487.6" stroke="#b8b8b8" stroke-width="0.85" stroke-linecap="butt"/>
<line x1="183.0" y1="488.3" x2="282.0" y2="489.7" stroke="#b8b8b8" stroke-width="0.85" stroke-linecap="butt"/>
<line x1="183.0" y1="490.5" x2="282.0" y2="491.9" stroke="#b8b8b8" stroke-width="0.85" stroke-linecap="butt"/>
<line x1="183.0" y1="492.6" x2="282.0" y2="494.0" stroke="#b8b8b8" stroke-width="0.85" stroke-linecap="butt"/>
<line x1="183.0" y1="494.8" x2="282.0" y2="496.2" stroke="#b8b8b8" stroke-width="0.85" stroke-linecap="butt"/>
<line x1="183.0" y1="496.9" x2="282.0" y2="498.3" stroke="#b8b8b8" stroke-width="0.85" stroke-linecap="butt"/>
<line x1="183.0" y1="499.1" x2="282.0" y2="500.5" stroke="#b8b8b8" stroke-width="0.85" stroke-linecap="butt"/>
<line x1="183.0" y1="501.2" x2="282.0" y2="502.6" stroke="#b8b8b8" stroke-width="0.85" stroke-linecap="butt"/>
<line x1="183.0" y1="503.4" x2="282.0" y2="504.8" stroke="#b8b8b8" stroke-width="0.85" stroke-linecap="butt"/>
<line x1="183.0" y1="505.5" x2="282.0" y2="506.9" stroke="#b8b8b8" stroke-width="0.85" stroke-linecap="butt"/>
</g>
<path d="M209.8,433.8 L278.2,435 L277,505.3 L206.4,502.2 C196,497 187,483 186.2,468.6 C186,453 196,438 209.8,433.8 Z" fill="none" stroke="#222" stroke-width="0.9" />
<path d="M209.8,433.8 C196,438 186,453 186.2,468.6 C187,483 196,497 206.4,502.2" fill="none" stroke="#333" stroke-width="1.6" stroke-dasharray="1 1.1" stroke-linecap="butt"/>
<path d="M187.6,468.2 L256,470 L256,471.6 L187.6,469.8 Z" fill="#fff" stroke="#ddd" stroke-width="0.3" />
<polygon points="209.4,481.2 221.0,480.2 229.8,497.0 218.0,498.2 210.4,487.8" fill="#fff" stroke="#333" stroke-width="0.4" />
<ellipse cx="275.8" cy="469.6" rx="18.0" ry="33.6" fill="#fff" stroke="#1a1a1a" stroke-width="1.1" transform="rotate(3 275.8 469.6)" />
<ellipse cx="277.4" cy="469.8" rx="15.4" ry="30.6" fill="#fff" stroke="#333" stroke-width="0.9" transform="rotate(3 277.4 469.8)" />
<path d="M262,452 C259.6,462 259.6,478 262.6,488" fill="none" stroke="#777" stroke-width="0.6" />
<path d="M283.6,440 C292,452 294,476 286,496" fill="none" stroke="#555" stroke-width="0.6" />
<ellipse cx="279.6" cy="437.6" rx="1.1" ry="1.1" fill="#fff" stroke="#222" stroke-width="0.6" />
<ellipse cx="277.6" cy="502.0" rx="1.1" ry="1.1" fill="#fff" stroke="#222" stroke-width="0.6" />
<path d="M296.4,462.4 L299,464 L299,478 L296.6,474" fill="#fff" stroke="#222" stroke-width="0.7" />
<ellipse cx="301.4" cy="471.6" rx="4.6" ry="5.8" fill="#fff" stroke="#222" stroke-width="1.0" />
<ellipse cx="301.8" cy="471.8" rx="3.0" ry="4.0" fill="#bbb" stroke="#222" stroke-width="0.8" />
<ellipse cx="302.0" cy="471.8" rx="1.5" ry="2.2" fill="#fff" stroke="#222" stroke-width="0.6" />
<path d="M305.6,468.6 L309,468.6 L309,476 L305.6,476" fill="#555" stroke="#222" stroke-width="0.6" />
<ellipse cx="320.6" cy="471.6" rx="10.6" ry="20.2" fill="#fff" stroke="#1a1a1a" stroke-width="1.1" />
<ellipse cx="322.4" cy="471.6" rx="8.8" ry="18.2" fill="#fff" stroke="#222" stroke-width="0.9" />
<path d="M317.6,455 C313.6,461 313.6,482 317.6,488.4" fill="none" stroke="#444" stroke-width="0.8" />
<line x1="322.8" y1="465.5" x2="321.7" y2="455.6" stroke="#1a1a1a" stroke-width="1.5" />
<line x1="324.0" y1="465.5" x2="324.3" y2="455.6" stroke="#1a1a1a" stroke-width="1.5" />
<line x1="325.0" y1="466.3" x2="326.8" y2="457.6" stroke="#1a1a1a" stroke-width="1.5" />
<line x1="325.9" y1="467.7" x2="328.8" y2="461.3" stroke="#1a1a1a" stroke-width="1.5" />
<line x1="326.4" y1="469.6" x2="330.1" y2="466.2" stroke="#1a1a1a" stroke-width="1.5" />
<line x1="326.6" y1="471.8" x2="330.6" y2="471.8" stroke="#1a1a1a" stroke-width="1.5" />
<line x1="326.4" y1="474.0" x2="330.1" y2="477.4" stroke="#1a1a1a" stroke-width="1.5" />
<line x1="325.9" y1="475.9" x2="328.8" y2="482.3" stroke="#1a1a1a" stroke-width="1.5" />
<line x1="325.0" y1="477.3" x2="326.8" y2="486.0" stroke="#1a1a1a" stroke-width="1.5" />
<line x1="324.0" y1="478.1" x2="324.3" y2="488.0" stroke="#1a1a1a" stroke-width="1.5" />
<line x1="322.8" y1="478.1" x2="321.7" y2="488.0" stroke="#1a1a1a" stroke-width="1.5" />
<ellipse cx="323.6" cy="471.8" rx="3.0" ry="6.0" fill="#fff" stroke="#1a1a1a" stroke-width="0.9" />
<ellipse cx="324.4" cy="471.8" rx="1.8" ry="3.4" fill="#fff" stroke="#222" stroke-width="0.8" />
<path d="M311.6,456.6 L309.6,455.6 M312,486.6 L310.4,487.8 M310,471.6 L308,471.6 M313.6,451.6 L312.6,450.2" fill="none" stroke="#222" stroke-width="1.6" />
<path d="M326,469 L331,468.6 M326,474.6 L331,475" fill="none" stroke="#222" stroke-width="0.8" />
<path d="M333.6,457.4 L351.6,457 C355,461 355,481 351.6,485.2 L333.6,485.6 C329.4,481 329.4,462 333.6,457.4 Z" fill="#fff" stroke="#1a1a1a" stroke-width="1.1" />
<ellipse cx="333.8" cy="471.5" rx="3.6" ry="14.0" fill="#fff" stroke="#222" stroke-width="0.9" />
<ellipse cx="334.4" cy="471.5" rx="2.4" ry="10.4" fill="#fff" stroke="#444" stroke-width="0.6" />
<line x1="337.4" y1="460.6" x2="351.6" y2="460.5" stroke="#222" stroke-width="1.1" />
<line x1="337.4" y1="464.4" x2="351.6" y2="464.3" stroke="#222" stroke-width="1.1" />
<line x1="337.4" y1="468.6" x2="351.6" y2="468.5" stroke="#222" stroke-width="1.1" />
<line x1="337.4" y1="473.4" x2="351.6" y2="473.3" stroke="#222" stroke-width="1.1" />
<line x1="337.4" y1="478.0" x2="351.6" y2="477.9" stroke="#222" stroke-width="1.1" />
<line x1="337.4" y1="482.0" x2="351.6" y2="481.9" stroke="#222" stroke-width="1.1" />
<path d="M343.6,457.2 C346,462 346,480 343.6,485.4 M345.4,457.2 C347.8,462 347.8,480 345.4,485.4" fill="none" stroke="#333" stroke-width="0.7" />
<path d="M351.6,457 C355,461 355,481 351.6,485.2 L355.6,483.6 C358.6,479 358.6,464 355.6,459.4 Z" fill="#fff" stroke="#222" stroke-width="0.9" />
<path d="M357.6,460.6 C360,458.6 368,458.6 371.6,460 C374.4,463 374.4,481 371.6,484 C368,485.6 360,485.4 357.6,483.4 C355.4,479 355.4,465 357.6,460.6 Z" fill="#222" stroke="#111" stroke-width="0.9" />
<line x1="358.0" y1="462.2" x2="372.6" y2="462.0" stroke="#ccc" stroke-width="0.7" />
<line x1="358.0" y1="464.8" x2="372.6" y2="464.6" stroke="#ccc" stroke-width="0.7" />
<line x1="358.0" y1="467.4" x2="372.6" y2="467.2" stroke="#ccc" stroke-width="0.7" />
<line x1="358.0" y1="470.0" x2="372.6" y2="469.8" stroke="#ccc" stroke-width="0.7" />
<line x1="358.0" y1="472.6" x2="372.6" y2="472.4" stroke="#ccc" stroke-width="0.7" />
<line x1="358.0" y1="475.2" x2="372.6" y2="475.0" stroke="#ccc" stroke-width="0.7" />
<line x1="358.0" y1="477.8" x2="372.6" y2="477.6" stroke="#ccc" stroke-width="0.7" />
<line x1="358.0" y1="480.4" x2="372.6" y2="480.2" stroke="#ccc" stroke-width="0.7" />
<line x1="358.0" y1="483.0" x2="372.6" y2="482.8" stroke="#ccc" stroke-width="0.7" />
<path d="M364.6,459.4 C366.4,464 366.4,480 364.6,484.8" fill="none" stroke="#e0e0e0" stroke-width="1.0" />
<path d="M360.4,459.6 C362,464 362,480 360.4,484.6" fill="none" stroke="#888" stroke-width="0.6" />
<path d="M373.4,463.6 L381.6,463.8 C383.6,466 383.6,477 381.6,479.4 L373.4,479.6 Z" fill="#fff" stroke="#1a1a1a" stroke-width="1.0" />
<ellipse cx="381.4" cy="471.6" rx="1.9" ry="7.6" fill="#fff" stroke="#222" stroke-width="0.9" />
<path d="M382.6,469.4 L385.6,469.6 L385.6,473.8 L382.6,474" fill="#fff" stroke="#222" stroke-width="0.8" />
<ellipse cx="377.4" cy="471.8" rx="1.5" ry="1.8" fill="#fff" stroke="#222" stroke-width="0.7" />
<ellipse cx="391.6" cy="472.3" rx="4.6" ry="7.8" fill="#333" stroke="#111" stroke-width="0.9" />
<path d="M391.6,464.5 L395.6,464.5 L395.6,480.1 L391.6,480.1" fill="#333" stroke="#111" stroke-width="0.8" />
<ellipse cx="395.4" cy="472.3" rx="4.8" ry="7.9" fill="#fff" stroke="#111" stroke-width="1.1" />
<ellipse cx="395.6" cy="472.3" rx="3.3" ry="5.8" fill="#555" stroke="#111" stroke-width="0.9" />
<ellipse cx="395.9" cy="472.3" rx="1.8" ry="3.3" fill="#fff" stroke="#111" stroke-width="0.8" />
<path d="M413.9,449.6 L434.5,449.2 L441.5,460.2 L448.5,469.8 L449.4,482.1 L442.4,496.1 L430.1,504.5 L413.9,504.5 C408,498 404.6,490 403.8,483 C401.6,476 401.6,468 403.8,461.9 C405.6,456 409,452 413.9,449.6 Z" fill="#fff" stroke="#1a1a1a" stroke-width="1.2" />
<path d="M424,451 L434.5,449.2 L441.5,460.2 L448.5,469.8 L449.4,482.1 L442.4,496.1 L430.1,504.5 L425.7,496.1 L417.8,482.1 L417,469.8 L421.3,457.5 Z" fill="#fff" stroke="#1a1a1a" stroke-width="1.1" />
<path d="M424.8,465.4 C427,462.6 430,461.6 432.7,462 C436,462.4 438.6,464 440.6,466.3 C443,469 444.6,472 445,475.1 C445.6,480 445,485 443.2,489.1 C441,492 437.6,493.4 433.6,493.5 C431,493 428.8,492 427.5,490.9 C425.4,487.6 424.2,483.6 424,479.5 C423.6,474 424,469 424.8,465.4 Z" fill="#fff" stroke="#1a1a1a" stroke-width="1.0" />
<path d="M426,464 C430,463 434,464.6 436.6,468 C438.6,471 439.6,476 439.4,480.6 L426.4,480.6 M427,481 L439.6,481 L442.4,478 M430,481 L429.6,491 M425.6,468 C427.6,470 428.4,475 428,480" fill="none" stroke="#222" stroke-width="0.9" />
<path d="M421.6,474.6 L424,474.2 L424,481.6 L421.6,482" fill="#fff" stroke="#222" stroke-width="0.8" />
<path d="M427.4,456 C429,454 433,454 436.4,455.4 C436,457.6 433,458.2 427.6,458 Z" fill="#fff" stroke="#1a1a1a" stroke-width="0.9" />
<path d="M431,497.4 C434,495.6 438,494.6 440.6,494.4 C440,497.6 435,499.4 431.4,499.2 Z" fill="#fff" stroke="#1a1a1a" stroke-width="0.9" />
<path d="M445,470 C447,474 447,481 445,485.6" fill="none" stroke="#222" stroke-width="0.9" />
<ellipse cx="423.4" cy="460.2" rx="1.2" ry="1.3" fill="#fff" stroke="#222" stroke-width="0.6" />
<ellipse cx="442.6" cy="493.4" rx="1.2" ry="1.3" fill="#fff" stroke="#222" stroke-width="0.6" />
<path d="M405.6,461.9 L419.6,461.9 M403.8,482.2 L417.8,482.2 M406.6,488.7 L424,488.7" fill="none" stroke="#333" stroke-width="0.8" />
<path d="M411.6,496.1 L425.7,496.1" fill="none" stroke="#333" stroke-width="1.6" />
<path d="M412.4,498 L427,498" fill="none" stroke="#666" stroke-width="0.6" />
<path d="M443.5,463.4 C445,458 448,454 451.4,452.5 L465.4,452.5 L468,454.8 L466.4,458.4 L458.4,463.9 Z" fill="#fff" stroke="#1a1a1a" stroke-width="1.1" />
<path d="M443.5,463.4 L458.4,463.9 M443.8,465.2 L458,465.6" fill="none" stroke="#222" stroke-width="0.9" />
<path d="M463.6,452.6 L463.2,455.6 L466.6,456.4" fill="none" stroke="#222" stroke-width="0.8" />
<path d="M463.7,470 C462.8,477 463.6,486 466.3,490.6 L478.6,490.6 C474,486 472.6,477 473.3,470.4 Z" fill="#fff" stroke="#222" stroke-width="1.0" />
<path d="M469,460 C479,459 486,464 487.4,471.3 L487.8,481.8 C486,487 483,490 478.6,490.6 C474.6,486 473,478 473.3,470.4 C472,466 470,462.6 469,460 Z" fill="#fff" stroke="#1a1a1a" stroke-width="1.1" />
<path d="M474.6,463.4 C480,464.4 483.6,468 484.2,473 L484.4,481 C483.4,485 481.6,487.6 479.4,488.6" fill="none" stroke="#333" stroke-width="0.8" />
<path d="M458.9,460.4 L462.6,458 L476.6,459.4 L478,462.6 L474,470.4 L463.7,470 L459.4,464.6 Z" fill="#fff" stroke="#111" stroke-width="1.3" />
<path d="M461,462.6 L474.6,463.6 M462,465.6 L474,466.6 M463,468.2 L473.6,468.8 M466,459 L465.6,463 M470.6,459.4 L470.4,463.4" fill="none" stroke="#111" stroke-width="1.2" />
<path d="M477.8,482 L488.6,481.4 L490.4,484 L490,488.6 L479.6,489.6 Z" fill="#fff" stroke="#111" stroke-width="1.2" />
<path d="M478.6,484.4 L490,483.6 M479,487 L490,486.4" fill="none" stroke="#111" stroke-width="1.2" />
<path d="M463.7,490.6 L464.6,498.6 L470,500.4 L489,497.6 L491,494 L486,492.6 L480,493 L478.6,490.6 Z" fill="#fff" stroke="#1a1a1a" stroke-width="1.1" />
<path d="M466,494 L476,493.6 L479.6,498.6 M470,500.4 L469.6,496.6 L484,495.4 M466.6,496 C468,494.4 470.4,494.6 470.6,496.6" fill="none" stroke="#222" stroke-width="0.9" />
<path d="M482,493 L483.6,497.6" fill="none" stroke="#111" stroke-width="1.2" />
<ellipse cx="483.6" cy="459.8" rx="2.1" ry="2.5" fill="#333" stroke="#111" stroke-width="0.7" />
<ellipse cx="483.9" cy="459.8" rx="0.9" ry="1.2" fill="#ccc" stroke="#111" stroke-width="0.4" />
<ellipse cx="500.0" cy="490.4" rx="2.1" ry="2.5" fill="#333" stroke="#111" stroke-width="0.7" />
<ellipse cx="500.3" cy="490.4" rx="0.9" ry="1.2" fill="#ccc" stroke="#111" stroke-width="0.4" />
<path d="M473.4,425.2 L481.4,423.2 L482.2,425 L474.2,427.2 Z" fill="#e4e4e4" stroke="#222" stroke-width="0.9" />
<line x1="477.9" y1="426.6" x2="485.6" y2="438.6" stroke="#1a1a1a" stroke-width="3.7" stroke-linecap="butt"/>
<line x1="477.9" y1="426.6" x2="485.6" y2="438.6" stroke="#555" stroke-width="1.2" stroke-dasharray="0.5 1.1" stroke-linecap="butt"/>
<path d="M481.4,439.4 L490.4,437.2 L492.4,442.4 L483.6,445.2 Z" fill="#fff" stroke="#1a1a1a" stroke-width="1.0" />
<path d="M490.4,437.2 L491.6,436.8 L493.6,441.8 L492.4,442.4" fill="#555" stroke="#222" stroke-width="0.7" />
<path d="M522.4,513.4 L530.4,511 L533.4,518 L525.4,520.6 Z" fill="#fff" stroke="#1a1a1a" stroke-width="1.0" />
<path d="M522.4,513.4 L522.2,515.6 L525.2,522.6 L525.4,520.6" fill="#777" stroke="#222" stroke-width="0.7" />
<line x1="529.6" y1="520.2" x2="537.2" y2="530.0" stroke="#1a1a1a" stroke-width="3.7" stroke-linecap="butt"/>
<line x1="529.6" y1="520.2" x2="537.2" y2="530.0" stroke="#555" stroke-width="1.2" stroke-dasharray="0.5 1.1" stroke-linecap="butt"/>
<path d="M532.4,531.4 L540.6,529.2 L541.6,531.2 L533.4,533.6 Z" fill="#e4e4e4" stroke="#222" stroke-width="0.9" />
<path d="M490.2,457.4 L493.8,455 L507.8,464.6 L507.6,470 L503.6,472 L490.8,462.4 Z" fill="#fff" stroke="#1a1a1a" stroke-width="1.1" />
<path d="M493.8,455 L494,460 L507.6,470 M494,460 L490.8,462.4" fill="none" stroke="#222" stroke-width="0.9" />
<path d="M496.6,457.2 L496.8,462 M499.8,459.4 L500,464.4 M503,461.6 L503.2,466.8" fill="none" stroke="#222" stroke-width="1.2" />
<path d="M493,462 L503,469.6" fill="none" stroke="#333" stroke-width="1.6" />
<path d="M497.4,455.4 L499.4,454.2 L502.6,456.6 M502,458.6 L504,457.4 L507,459.8" fill="none" stroke="#222" stroke-width="0.8" />
<path d="M507.6,486 L511.6,483.4 L523.8,494 L523.6,499.4 L518.4,501.8 L507.8,490.6 Z" fill="#fff" stroke="#1a1a1a" stroke-width="1.1" />
<path d="M511.6,483.4 L511.8,488.4 L523.6,499.4 M511.8,488.4 L507.8,490.6" fill="none" stroke="#222" stroke-width="0.8" />
<path d="M515,490.6 L515.2,494.4 M518.6,493.6 L518.8,497.6" fill="none" stroke="#333" stroke-width="0.8" />
<ellipse cx="521.6" cy="496.4" rx="0.9" ry="1.2" fill="#fff" stroke="#222" stroke-width="0.5" />
<g transform="rotate(-60 519.6 467.2)"><rect x="512.2" y="464.8" width="14.8" height="4.8" rx="2.4" fill="#fff" stroke="#1a1a1a" stroke-width="1.0"/><rect x="514.6" y="466.3" width="10" height="1.8" rx="0.9" fill="#fff" stroke="#222" stroke-width="0.8"/></g>
<g transform="rotate(-60 531.4 488.8)"><rect x="524.0" y="486.4" width="14.8" height="4.8" rx="2.4" fill="#fff" stroke="#1a1a1a" stroke-width="1.0"/><rect x="526.4" y="487.9" width="10" height="1.8" rx="0.9" fill="#fff" stroke="#222" stroke-width="0.8"/></g>
<path d="M535.8,462.4 L540.4,462.4 L540.4,464.8 L535.8,464.8 Z" fill="#fff" stroke="#333" stroke-width="0.7" />
<ellipse cx="541.0" cy="463.6" rx="2.1" ry="2.6" fill="#444" stroke="#111" stroke-width="0.8" />
<ellipse cx="541.4" cy="463.6" rx="0.9" ry="1.2" fill="#ddd" stroke="#111" stroke-width="0.4" />
<path d="M530.8,470.4 L535.4,470.4 L535.4,472.8 L530.8,472.8 Z" fill="#fff" stroke="#333" stroke-width="0.7" />
<ellipse cx="536.0" cy="471.6" rx="2.1" ry="2.6" fill="#444" stroke="#111" stroke-width="0.8" />
<ellipse cx="536.4" cy="471.6" rx="0.9" ry="1.2" fill="#ddd" stroke="#111" stroke-width="0.4" />
<path d="M548.0,484.0 L552.6,484.0 L552.6,486.4 L548.0,486.4 Z" fill="#fff" stroke="#333" stroke-width="0.7" />
<ellipse cx="553.2" cy="485.2" rx="2.1" ry="2.6" fill="#444" stroke="#111" stroke-width="0.8" />
<ellipse cx="553.6" cy="485.2" rx="0.9" ry="1.2" fill="#ddd" stroke="#111" stroke-width="0.4" />
<path d="M542.8,492.0 L547.4,492.0 L547.4,494.4 L542.8,494.4 Z" fill="#fff" stroke="#333" stroke-width="0.7" />
<ellipse cx="548.0" cy="493.2" rx="2.1" ry="2.6" fill="#444" stroke="#111" stroke-width="0.8" />
<ellipse cx="548.4" cy="493.2" rx="0.9" ry="1.2" fill="#ddd" stroke="#111" stroke-width="0.4" />
<path d="M579,439.6 L604.2,439.6 L601,516.8 L576.8,516 C564,508 556,494 555.8,478.2 C556,462 565,447 579,439.6 Z" fill="#fff" stroke="#333" stroke-width="0.9" />
<path d="M604.4,439.6 L622.2,471.8 L621.2,479.4 C618,494 610,508 601,516.8 C589,508 580.6,494 580.4,478.8 C580.4,462 590,447 604.4,439.6 Z" fill="#fff" stroke="#1a1a1a" stroke-width="1.2" />
<path d="M601.8,443.6 C590,451 583.4,465 583.4,478.8 C583.6,492 590,505 599.6,512.6" fill="none" stroke="#333" stroke-width="0.9" />
<line x1="555.8" y1="478.2" x2="581.0" y2="478.6" stroke="#222" stroke-width="1.1" />
<ellipse cx="601.6" cy="446.6" rx="1.5" ry="2.2" fill="#ddd" stroke="#333" stroke-width="0.7" />
<ellipse cx="582.2" cy="478.4" rx="1.5" ry="2.2" fill="#ddd" stroke="#333" stroke-width="0.7" />
<ellipse cx="600.6" cy="510.8" rx="1.5" ry="2.2" fill="#ddd" stroke="#333" stroke-width="0.7" />
<ellipse cx="619.0" cy="478.6" rx="1.5" ry="2.2" fill="#ddd" stroke="#333" stroke-width="0.7" />
<path d="M613.4,476.9 L603.6,476.9 Q602.2,478.6 603.6,480.3 L613.4,480.3 Z" fill="#fff" stroke="#444" stroke-width="0.7" />
<rect x="613.4" y="475.5" width="7.6" height="6.2" rx="1.4" fill="#4a4a4a" stroke="#1a1a1a" stroke-width="0.9"/>
<ellipse cx="619.8" cy="478.6" rx="0.9" ry="1.8" fill="#ccc" stroke="#222" stroke-width="0.4" />
<line x1="453.4" y1="189.5" x2="416.6" y2="189.5" stroke="#1a1a1a" stroke-width="1.15" />
<circle cx="416.6" cy="189.5" r="1.7" fill="#111" stroke="none"/>
<circle cx="461.0" cy="189.5" r="7.55" fill="#fff" stroke="#1a1a1a" stroke-width="1.15"/>
<text x="461.0" y="193.4" text-anchor="middle" font-size="11" fill="#1a1a1a" stroke="none" letter-spacing="-0.4">15</text>
<line x1="427.4" y1="235.3" x2="400.5" y2="235.3" stroke="#1a1a1a" stroke-width="1.15" stroke-dasharray="1.2 1.6"/>
<circle cx="435.0" cy="235.3" r="7.55" fill="#fff" stroke="#1a1a1a" stroke-width="1.15"/>
<text x="435.0" y="239.2" text-anchor="middle" font-size="11" fill="#1a1a1a" stroke="none" letter-spacing="-0.4">18</text>
<line x1="186.6" y1="251.9" x2="224.8" y2="251.9" stroke="#1a1a1a" stroke-width="1.15" />
<circle cx="224.8" cy="251.9" r="1.7" fill="#111" stroke="none"/>
<circle cx="179.0" cy="251.9" r="7.55" fill="#fff" stroke="#1a1a1a" stroke-width="1.15"/>
<text x="179.0" y="255.8" text-anchor="middle" font-size="11" fill="#1a1a1a" stroke="none" letter-spacing="-0.4">20</text>
<line x1="389.4" y1="302.1" x2="341.8" y2="302.1" stroke="#1a1a1a" stroke-width="1.15" />
<circle cx="341.8" cy="302.1" r="1.7" fill="#111" stroke="none"/>
<circle cx="397.0" cy="302.1" r="7.55" fill="#fff" stroke="#1a1a1a" stroke-width="1.15"/>
<text x="397.0" y="306.0" text-anchor="middle" font-size="11" fill="#1a1a1a" stroke="none" letter-spacing="-0.4">19</text>
<polyline points="340.6,317.9 386.6,317.9 347.4,389.2 298.4,389.2" fill="none" stroke="#1a1a1a" stroke-width="1.15" />
<line x1="384.8" y1="351.4" x2="368.5" y2="351.4" stroke="#1a1a1a" stroke-width="1.15" />
<circle cx="392.3" cy="351.4" r="7.55" fill="#fff" stroke="#1a1a1a" stroke-width="1.15"/>
<text x="392.3" y="355.3" text-anchor="middle" font-size="11" fill="#1a1a1a" stroke="none" letter-spacing="-0.4">17</text>
<line x1="326.1" y1="411.4" x2="294.6" y2="411.4" stroke="#1a1a1a" stroke-width="1.15" />
<circle cx="294.6" cy="411.4" r="1.7" fill="#111" stroke="none"/>
<circle cx="333.6" cy="411.4" r="7.55" fill="#fff" stroke="#1a1a1a" stroke-width="1.15"/>
<text x="333.6" y="415.3" text-anchor="middle" font-size="11" fill="#1a1a1a" stroke="none" letter-spacing="-0.4">14</text>
<line x1="369.9" y1="417.6" x2="344.1" y2="461.6" stroke="#1a1a1a" stroke-width="1.15" />
<circle cx="344.1" cy="461.6" r="1.7" fill="#111" stroke="none"/>
<circle cx="373.7" cy="411.1" r="7.55" fill="#fff" stroke="#1a1a1a" stroke-width="1.15"/>
<text x="373.7" y="415.0" text-anchor="middle" font-size="11" fill="#1a1a1a" stroke="none">8</text>
<line x1="422.2" y1="417.7" x2="394.3" y2="468.3" stroke="#1a1a1a" stroke-width="1.15" />
<circle cx="394.3" cy="468.3" r="1.7" fill="#111" stroke="none"/>
<circle cx="425.9" cy="411.1" r="7.55" fill="#fff" stroke="#1a1a1a" stroke-width="1.15"/>
<text x="425.9" y="415.0" text-anchor="middle" font-size="11" fill="#1a1a1a" stroke="none">7</text>
<line x1="444.2" y1="417.7" x2="424.9" y2="453.4" stroke="#1a1a1a" stroke-width="1.15" />
<circle cx="424.9" cy="453.4" r="1.7" fill="#111" stroke="none"/>
<circle cx="447.8" cy="411.1" r="7.55" fill="#fff" stroke="#1a1a1a" stroke-width="1.15"/>
<text x="447.8" y="415.0" text-anchor="middle" font-size="11" fill="#1a1a1a" stroke="none">6</text>
<polyline points="482.2,420.7 485.1,417.2 509.5,458.8 506.6,463.6" fill="none" stroke="#1a1a1a" stroke-width="1.15" />
<line x1="510.9" y1="418.2" x2="499.4" y2="438.4" stroke="#1a1a1a" stroke-width="1.15" />
<circle cx="514.6" cy="411.6" r="7.55" fill="#fff" stroke="#1a1a1a" stroke-width="1.15"/>
<text x="514.6" y="415.5" text-anchor="middle" font-size="11" fill="#1a1a1a" stroke="none">4</text>
<polyline points="523.1,457.3 528.1,448.3 552.5,448.3 546.8,458.0" fill="none" stroke="#1a1a1a" stroke-width="1.15" />
<line x1="557.4" y1="417.9" x2="541.0" y2="448.3" stroke="#1a1a1a" stroke-width="1.15" />
<circle cx="561.0" cy="411.3" r="7.55" fill="#fff" stroke="#1a1a1a" stroke-width="1.15"/>
<text x="561.0" y="415.2" text-anchor="middle" font-size="11" fill="#1a1a1a" stroke="none">3</text>
<line x1="601.5" y1="417.6" x2="585.3" y2="445.1" stroke="#1a1a1a" stroke-width="1.15" />
<circle cx="585.3" cy="445.1" r="1.7" fill="#111" stroke="none"/>
<circle cx="605.3" cy="411.1" r="7.55" fill="#fff" stroke="#1a1a1a" stroke-width="1.15"/>
<text x="605.3" y="415.0" text-anchor="middle" font-size="11" fill="#1a1a1a" stroke="none">2</text>
<line x1="643.2" y1="417.6" x2="627.4" y2="445.1" stroke="#1a1a1a" stroke-width="1.15" />
<circle cx="627.4" cy="445.1" r="1.7" fill="#111" stroke="none"/>
<circle cx="647.0" cy="411.1" r="7.55" fill="#fff" stroke="#1a1a1a" stroke-width="1.15"/>
<text x="647.0" y="415.0" text-anchor="middle" font-size="11" fill="#1a1a1a" stroke="none">1</text>
<line x1="61.9" y1="417.7" x2="37.4" y2="463.3" stroke="#1a1a1a" stroke-width="1.15" />
<circle cx="65.5" cy="411.1" r="7.55" fill="#fff" stroke="#1a1a1a" stroke-width="1.15"/>
<text x="65.5" y="415.0" text-anchor="middle" font-size="11" fill="#1a1a1a" stroke="none" letter-spacing="-0.4">23</text>
<line x1="86.1" y1="417.8" x2="76.7" y2="435.5" stroke="#1a1a1a" stroke-width="1.15" />
<circle cx="76.7" cy="435.5" r="1.7" fill="#111" stroke="none"/>
<circle cx="89.6" cy="411.1" r="7.55" fill="#fff" stroke="#1a1a1a" stroke-width="1.15"/>
<text x="89.6" y="415.0" text-anchor="middle" font-size="11" fill="#1a1a1a" stroke="none">1</text>
<line x1="111.4" y1="417.6" x2="95.8" y2="444.7" stroke="#1a1a1a" stroke-width="1.15" />
<circle cx="95.8" cy="444.7" r="1.7" fill="#111" stroke="none"/>
<circle cx="115.2" cy="411.1" r="7.55" fill="#fff" stroke="#1a1a1a" stroke-width="1.15"/>
<text x="115.2" y="415.0" text-anchor="middle" font-size="11" fill="#1a1a1a" stroke="none" letter-spacing="-0.4">13</text>
<line x1="143.7" y1="417.8" x2="127.4" y2="448.4" stroke="#1a1a1a" stroke-width="1.15" />
<circle cx="147.2" cy="411.1" r="7.55" fill="#fff" stroke="#1a1a1a" stroke-width="1.15"/>
<text x="147.2" y="415.0" text-anchor="middle" font-size="11" fill="#1a1a1a" stroke="none" letter-spacing="-0.4">16</text>
<line x1="167.7" y1="417.6" x2="151.2" y2="444.7" stroke="#1a1a1a" stroke-width="1.15" />
<circle cx="151.2" cy="444.7" r="1.7" fill="#111" stroke="none"/>
<circle cx="171.6" cy="411.1" r="7.55" fill="#fff" stroke="#1a1a1a" stroke-width="1.15"/>
<text x="171.6" y="415.0" text-anchor="middle" font-size="11" fill="#1a1a1a" stroke="none" letter-spacing="-0.4">12</text>
<line x1="152.9" y1="531.8" x2="177.8" y2="487.8" stroke="#1a1a1a" stroke-width="1.15" />
<circle cx="177.8" cy="487.8" r="1.7" fill="#111" stroke="none"/>
<circle cx="149.2" cy="538.4" r="7.55" fill="#fff" stroke="#1a1a1a" stroke-width="1.15"/>
<text x="149.2" y="542.3" text-anchor="middle" font-size="11" fill="#1a1a1a" stroke="none" letter-spacing="-0.4">11</text>
<line x1="184.6" y1="532.2" x2="216.4" y2="487.1" stroke="#1a1a1a" stroke-width="1.15" />
<circle cx="216.4" cy="487.1" r="1.7" fill="#111" stroke="none"/>
<circle cx="180.3" cy="538.4" r="7.55" fill="#fff" stroke="#1a1a1a" stroke-width="1.15"/>
<text x="180.3" y="542.3" text-anchor="middle" font-size="11" fill="#1a1a1a" stroke="none" letter-spacing="-0.4">24</text>
<line x1="210.7" y1="532.0" x2="232.6" y2="493.3" stroke="#1a1a1a" stroke-width="1.15" />
<circle cx="232.6" cy="493.3" r="1.7" fill="#111" stroke="none"/>
<circle cx="207.0" cy="538.6" r="7.55" fill="#fff" stroke="#1a1a1a" stroke-width="1.15"/>
<text x="207.0" y="542.5" text-anchor="middle" font-size="11" fill="#1a1a1a" stroke="none" letter-spacing="-0.4">10</text>
<line x1="268.7" y1="532.0" x2="299.2" y2="477.1" stroke="#1a1a1a" stroke-width="1.15" />
<circle cx="299.2" cy="477.1" r="1.7" fill="#111" stroke="none"/>
<circle cx="265.0" cy="538.6" r="7.55" fill="#fff" stroke="#1a1a1a" stroke-width="1.15"/>
<text x="265.0" y="542.5" text-anchor="middle" font-size="11" fill="#1a1a1a" stroke="none" letter-spacing="-0.4">23</text>
<line x1="293.6" y1="532.1" x2="318.5" y2="489.7" stroke="#1a1a1a" stroke-width="1.15" />
<circle cx="318.5" cy="489.7" r="1.7" fill="#111" stroke="none"/>
<circle cx="289.8" cy="538.6" r="7.55" fill="#fff" stroke="#1a1a1a" stroke-width="1.15"/>
<text x="289.8" y="542.5" text-anchor="middle" font-size="11" fill="#1a1a1a" stroke="none">9</text>
<line x1="440.3" y1="532.0" x2="466.8" y2="484.3" stroke="#1a1a1a" stroke-width="1.15" />
<circle cx="466.8" cy="484.3" r="1.7" fill="#111" stroke="none"/>
<circle cx="436.6" cy="538.6" r="7.55" fill="#fff" stroke="#1a1a1a" stroke-width="1.15"/>
<text x="436.6" y="542.5" text-anchor="middle" font-size="11" fill="#1a1a1a" stroke="none">5</text>
<line x1="477.9" y1="532.0" x2="499.6" y2="492.4" stroke="#1a1a1a" stroke-width="1.15" />
<circle cx="474.3" cy="538.6" r="7.55" fill="#fff" stroke="#1a1a1a" stroke-width="1.15"/>
<text x="474.3" y="542.5" text-anchor="middle" font-size="11" fill="#1a1a1a" stroke="none" letter-spacing="-0.4">22</text>
<line x1="562.8" y1="532.2" x2="592.8" y2="484.3" stroke="#1a1a1a" stroke-width="1.15" />
<circle cx="592.8" cy="484.3" r="1.7" fill="#111" stroke="none"/>
<circle cx="558.8" cy="538.6" r="7.55" fill="#fff" stroke="#1a1a1a" stroke-width="1.15"/>
<text x="558.8" y="542.5" text-anchor="middle" font-size="11" fill="#1a1a1a" stroke="none" letter-spacing="-0.4">24</text>
</svg>
<div class="abs" style="left:9.3px;top:593.5px;width:328.7px;height:262.6px;background:#e9f8f9;"></div>
<div class="abs" style="left:338px;top:593.5px;width:329px;height:244.2px;background:#e9f8f9;"></div>
<div class="abs teal" style="left:9.3px;top:594px;width:34.5px;height:42px;"></div>
<div class="c w hz" style="left:9.3px;width:34.5px;top:600.5px;">序号</div>
<div class="c w he" style="left:9.3px;width:34.5px;top:617px;">No.</div>
<div class="abs teal" style="left:46.3px;top:594px;width:217.5px;height:42px;"></div>
<div class="c w hz" style="left:46.3px;width:217.5px;top:600.5px;">部件名称</div>
<div class="c w he" style="left:46.3px;width:217.5px;top:617px;">Name</div>
<div class="abs teal" style="left:266.3px;top:594px;width:70.5px;height:42px;"></div>
<div class="c w hz" style="left:266.3px;width:70.5px;top:600.5px;">配件编号</div>
<div class="c w he" style="left:266.3px;width:70.5px;top:617px;">No.</div>
<div class="abs teal" style="left:339px;top:594px;width:34.7px;height:42px;"></div>
<div class="c w hz" style="left:339px;width:34.7px;top:600.5px;">序号</div>
<div class="c w he" style="left:339px;width:34.7px;top:617px;">No.</div>
<div class="abs teal" style="left:376.3px;top:594px;width:216.9px;height:42px;"></div>
<div class="c w hz" style="left:376.3px;width:216.9px;top:600.5px;">部件名称</div>
<div class="c w he" style="left:376.3px;width:216.9px;top:617px;">Name</div>
<div class="abs teal" style="left:595.4px;top:594px;width:71.6px;height:42px;"></div>
<div class="c w hz" style="left:595.4px;width:71.6px;top:600.5px;">配件编号</div>
<div class="c w he" style="left:595.4px;width:71.6px;top:617px;">No.</div>
<div class="abs light" style="left:9.3px;top:637.3px;width:34.5px;height:16.4px;"></div>
<div class="abs light" style="left:46.3px;top:637.3px;width:217.5px;height:16.4px;"></div>
<div class="abs light" style="left:266.3px;top:637.3px;width:70.5px;height:16.4px;"></div>
<div class="c tx" style="left:9.3px;width:34.5px;top:637.3px;">01</div>
<div class="abs tx song" style="left:51px;top:637.3px;">上盖<span style="margin:0 1px">/</span>下端盖螺丝</div>
<div class="abs tx en" style="left:139px;top:637.3px;">Screw for plastic housing</div>
<div class="c tx" style="left:266.3px;width:70.5px;top:637.3px;">881.830P</div>
<div class="abs light" style="left:9.3px;top:655.7px;width:34.5px;height:16.4px;"></div>
<div class="abs light" style="left:46.3px;top:655.7px;width:217.5px;height:16.4px;"></div>
<div class="abs light" style="left:266.3px;top:655.7px;width:70.5px;height:16.4px;"></div>
<div class="c tx" style="left:9.3px;width:34.5px;top:655.7px;">02</div>
<div class="abs tx song" style="left:51px;top:655.7px;">电机上盖</div>
<div class="abs tx en" style="left:139px;top:655.7px;">Motor cover</div>
<div class="c tx" style="left:266.3px;width:70.5px;top:655.7px;">880.800</div>
<div class="abs light" style="left:9.3px;top:674.1px;width:34.5px;height:16.4px;"></div>
<div class="abs light" style="left:46.3px;top:674.1px;width:217.5px;height:16.4px;"></div>
<div class="abs light" style="left:266.3px;top:674.1px;width:70.5px;height:16.4px;"></div>
<div class="c tx" style="left:9.3px;width:34.5px;top:674.1px;">03</div>
<div class="abs tx song" style="left:51px;top:674.1px;">十字自攻螺丝组件</div>
<div class="abs tx en" style="left:139px;top:674.1px;">Cross screw with gasket</div>
<div class="c tx" style="left:266.3px;width:70.5px;top:674.1px;">810.840</div>
<div class="abs light" style="left:9.3px;top:692.5px;width:34.5px;height:16.4px;"></div>
<div class="abs light" style="left:46.3px;top:692.5px;width:217.5px;height:16.4px;"></div>
<div class="abs light" style="left:266.3px;top:692.5px;width:70.5px;height:16.4px;"></div>
<div class="c tx" style="left:9.3px;width:34.5px;top:692.5px;">04</div>
<div class="abs tx song" style="left:51px;top:692.5px;">碳刷组件</div>
<div class="abs tx en" style="left:139px;top:692.5px;">Carbon brush</div>
<div class="c tx" style="left:266.3px;width:70.5px;top:692.5px;">887.803</div>
<div class="abs light" style="left:9.3px;top:710.9px;width:34.5px;height:16.4px;"></div>
<div class="abs light" style="left:46.3px;top:710.9px;width:217.5px;height:16.4px;"></div>
<div class="abs light" style="left:266.3px;top:710.9px;width:70.5px;height:16.4px;"></div>
<div class="c tx" style="left:9.3px;width:34.5px;top:710.9px;">05</div>
<div class="abs tx song" style="left:51px;top:710.9px;">碳刷架座</div>
<div class="abs tx en" style="left:139px;top:710.9px;">Brush holder</div>
<div class="c tx" style="left:266.3px;width:70.5px;top:710.9px;">885.808</div>
<div class="abs light" style="left:9.3px;top:729.3px;width:34.5px;height:16.4px;"></div>
<div class="abs light" style="left:46.3px;top:729.3px;width:217.5px;height:16.4px;"></div>
<div class="abs light" style="left:266.3px;top:729.3px;width:70.5px;height:16.4px;"></div>
<div class="c tx" style="left:9.3px;width:34.5px;top:729.3px;">06</div>
<div class="abs tx song" style="left:51px;top:729.3px;">外线圈组</div>
<div class="abs tx en" style="left:139px;top:729.3px;">Stator</div>
<div class="c tx" style="left:266.3px;width:70.5px;top:729.3px;">887.802</div>
<div class="abs light" style="left:9.3px;top:747.7px;width:34.5px;height:16.4px;"></div>
<div class="abs light" style="left:46.3px;top:747.7px;width:217.5px;height:16.4px;"></div>
<div class="abs light" style="left:266.3px;top:747.7px;width:70.5px;height:16.4px;"></div>
<div class="c tx" style="left:9.3px;width:34.5px;top:747.7px;">07</div>
<div class="abs tx song" style="left:51px;top:747.7px;">轴承</div>
<div class="abs tx en" style="left:139px;top:747.7px;">Ball bearing</div>
<div class="c tx" style="left:266.3px;width:70.5px;top:747.7px;">881.826</div>
<div class="abs light" style="left:9.3px;top:766.1px;width:34.5px;height:16.4px;"></div>
<div class="abs light" style="left:46.3px;top:766.1px;width:217.5px;height:16.4px;"></div>
<div class="abs light" style="left:266.3px;top:766.1px;width:70.5px;height:16.4px;"></div>
<div class="c tx" style="left:9.3px;width:34.5px;top:766.1px;">08</div>
<div class="abs tx song" style="left:51px;top:766.1px;">内线圈组</div>
<div class="abs tx en" style="left:139px;top:766.1px;">Armature</div>
<div class="c tx" style="left:266.3px;width:70.5px;top:766.1px;">887.801</div>
<div class="abs light" style="left:9.3px;top:784.5px;width:34.5px;height:16.4px;"></div>
<div class="abs light" style="left:46.3px;top:784.5px;width:217.5px;height:16.4px;"></div>
<div class="abs light" style="left:266.3px;top:784.5px;width:70.5px;height:16.4px;"></div>
<div class="c tx" style="left:9.3px;width:34.5px;top:784.5px;">09</div>
<div class="abs tx song" style="left:51px;top:784.5px;">散热风叶</div>
<div class="abs tx en" style="left:139px;top:784.5px;">Fan</div>
<div class="c tx" style="left:266.3px;width:70.5px;top:784.5px;">885.812</div>
<div class="abs light" style="left:9.3px;top:802.9px;width:34.5px;height:16.4px;"></div>
<div class="abs light" style="left:46.3px;top:802.9px;width:217.5px;height:16.4px;"></div>
<div class="abs light" style="left:266.3px;top:802.9px;width:70.5px;height:16.4px;"></div>
<div class="c tx" style="left:9.3px;width:34.5px;top:802.9px;">10</div>
<div class="abs tx song" style="left:51px;top:802.9px;">电机外壳</div>
<div class="abs tx en" style="left:139px;top:802.9px;">Motor housing,plastic</div>
<div class="c tx" style="left:266.3px;width:70.5px;top:802.9px;">885.810P</div>
<div class="abs light" style="left:9.3px;top:821.3px;width:34.5px;height:16.4px;"></div>
<div class="abs light" style="left:46.3px;top:821.3px;width:217.5px;height:16.4px;"></div>
<div class="abs light" style="left:266.3px;top:821.3px;width:70.5px;height:16.4px;"></div>
<div class="c tx" style="left:9.3px;width:34.5px;top:821.3px;">11</div>
<div class="abs tx song" style="left:51px;top:821.3px;">连接杆</div>
<div class="abs tx en" style="left:139px;top:821.3px;">Rod connector</div>
<div class="c tx" style="left:266.3px;width:70.5px;top:821.3px;">885.806</div>
<div class="abs light" style="left:9.3px;top:839.7px;width:34.5px;height:16.4px;"></div>
<div class="abs light" style="left:46.3px;top:839.7px;width:217.5px;height:16.4px;"></div>
<div class="abs light" style="left:266.3px;top:839.7px;width:70.5px;height:16.4px;"></div>
<div class="c tx" style="left:9.3px;width:34.5px;top:839.7px;">12</div>
<div class="abs tx song" style="left:51px;top:839.7px;">下端盖垫片</div>
<div class="abs tx en" style="left:139px;top:839.7px;">Guide disc</div>
<div class="c tx" style="left:266.3px;width:70.5px;top:839.7px;">885.804</div>
<div class="abs light" style="left:339px;top:637.3px;width:34.7px;height:16.4px;"></div>
<div class="abs light" style="left:376.3px;top:637.3px;width:216.9px;height:16.4px;"></div>
<div class="abs light" style="left:595.4px;top:637.3px;width:71.6px;height:16.4px;"></div>
<div class="c tx" style="left:339px;width:34.69999999999999px;top:637.3px;">13</div>
<div class="abs tx song" style="left:378px;top:637.3px;">电机下端盖</div>
<div class="abs tx en" style="left:462.5px;top:637.3px;">Lower housing</div>
<div class="c tx" style="left:595.4px;width:71.60000000000002px;top:637.3px;">881.800</div>
<div class="abs light" style="left:339px;top:655.7px;width:34.7px;height:16.4px;"></div>
<div class="abs light" style="left:376.3px;top:655.7px;width:216.9px;height:16.4px;"></div>
<div class="abs light" style="left:595.4px;top:655.7px;width:71.6px;height:16.4px;"></div>
<div class="c tx" style="left:339px;width:34.69999999999999px;top:655.7px;">14</div>
<div class="abs tx song" style="left:378px;top:655.7px;">把手垫片</div>
<div class="abs tx en" style="left:462.5px;top:655.7px;">Gasket</div>
<div class="c tx" style="left:595.4px;width:71.60000000000002px;top:655.7px;">881.867</div>
<div class="abs light" style="left:339px;top:674.1px;width:34.7px;height:16.4px;"></div>
<div class="abs light" style="left:376.3px;top:674.1px;width:216.9px;height:16.4px;"></div>
<div class="abs light" style="left:595.4px;top:674.1px;width:71.6px;height:16.4px;"></div>
<div class="c tx" style="left:339px;width:34.69999999999999px;top:674.1px;">15</div>
<div class="abs tx song" style="left:378px;top:674.1px;">把手螺丝</div>
<div class="abs tx en" style="left:462.5px;top:674.1px;">Screw</div>
<div class="c tx" style="left:595.4px;width:71.60000000000002px;top:674.1px;">881.831</div>
<div class="abs light" style="left:339px;top:692.5px;width:34.7px;height:16.4px;"></div>
<div class="abs light" style="left:376.3px;top:692.5px;width:216.9px;height:16.4px;"></div>
<div class="abs light" style="left:595.4px;top:692.5px;width:71.6px;height:16.4px;"></div>
<div class="c tx" style="left:339px;width:34.69999999999999px;top:692.5px;">16</div>
<div class="abs tx song" style="left:378px;top:692.5px;">弹簧</div>
<div class="abs tx en" style="left:462.5px;top:692.5px;">Pressure Spring</div>
<div class="c tx" style="left:595.4px;width:71.60000000000002px;top:692.5px;">885.807</div>
<div class="abs light" style="left:339px;top:710.9px;width:34.7px;height:16.4px;"></div>
<div class="abs light" style="left:376.3px;top:710.9px;width:216.9px;height:16.4px;"></div>
<div class="abs light" style="left:595.4px;top:710.9px;width:71.6px;height:16.4px;"></div>
<div class="c tx" style="left:339px;width:34.69999999999999px;top:710.9px;">17</div>
<div class="abs tx song" style="left:378px;top:710.9px;">调速开关</div>
<div class="abs tx sm17" style="left:422px;top:710.9px;">Switch housing for variable speed includes potentiometer</div>
<div class="c tx" style="left:595.4px;width:71.60000000000002px;top:710.9px;">880.805</div>
<div class="abs light" style="left:339px;top:729.3px;width:34.7px;height:16.4px;"></div>
<div class="abs light" style="left:376.3px;top:729.3px;width:216.9px;height:16.4px;"></div>
<div class="abs light" style="left:595.4px;top:729.3px;width:71.6px;height:16.4px;"></div>
<div class="c tx" style="left:339px;width:34.69999999999999px;top:729.3px;">18</div>
<div class="abs tx song" style="left:378px;top:729.3px;">把手上盖（推杆）</div>
<div class="abs tx en" style="left:462.5px;top:729.3px;">Switch cover</div>
<div class="c tx" style="left:595.4px;width:71.60000000000002px;top:729.3px;">880.802</div>
<div class="abs light" style="left:339px;top:747.7px;width:34.7px;height:16.4px;"></div>
<div class="abs light" style="left:376.3px;top:747.7px;width:216.9px;height:16.4px;"></div>
<div class="abs light" style="left:595.4px;top:747.7px;width:71.6px;height:16.4px;"></div>
<div class="c tx" style="left:339px;width:34.69999999999999px;top:747.7px;">19</div>
<div class="abs tx song" style="left:378px;top:747.7px;">电源开关</div>
<div class="abs tx en" style="left:462.5px;top:747.7px;">Overload switch</div>
<div class="c tx" style="left:595.4px;width:71.60000000000002px;top:747.7px;">887.804</div>
<div class="abs light" style="left:339px;top:766.1px;width:34.7px;height:16.4px;"></div>
<div class="abs light" style="left:376.3px;top:766.1px;width:216.9px;height:16.4px;"></div>
<div class="abs light" style="left:595.4px;top:766.1px;width:71.6px;height:16.4px;"></div>
<div class="c tx" style="left:339px;width:34.69999999999999px;top:766.1px;">20</div>
<div class="abs tx song" style="left:378px;top:766.1px;">电源线</div>
<div class="abs tx en" style="left:415px;top:766.1px;">Power cord w/strain relief&amp;plug <span class="song">(含插头)</span></div>
<div class="c tx" style="left:595.4px;width:71.60000000000002px;top:766.1px;">887.805</div>
<div class="abs light" style="left:339px;top:784.5px;width:34.7px;height:16.4px;"></div>
<div class="abs light" style="left:376.3px;top:784.5px;width:216.9px;height:16.4px;"></div>
<div class="abs light" style="left:595.4px;top:784.5px;width:71.6px;height:16.4px;"></div>
<div class="c tx" style="left:339px;width:34.69999999999999px;top:784.5px;">21</div>
<div class="abs tx song" style="left:378px;top:784.5px;">轴承</div>
<div class="abs tx en" style="left:462.5px;top:784.5px;">Bearing</div>
<div class="c tx" style="left:595.4px;width:71.60000000000002px;top:784.5px;">883.831</div>
<div class="abs light" style="left:339px;top:802.9px;width:34.7px;height:16.4px;"></div>
<div class="abs light" style="left:376.3px;top:802.9px;width:216.9px;height:16.4px;"></div>
<div class="abs light" style="left:595.4px;top:802.9px;width:71.6px;height:16.4px;"></div>
<div class="c tx" style="left:339px;width:34.69999999999999px;top:802.9px;">22</div>
<div class="abs tx song" style="left:378px;top:802.9px;">六角螺母</div>
<div class="abs tx en" style="left:462.5px;top:802.9px;">Hexagon nut</div>
<div class="c tx" style="left:595.4px;width:71.60000000000002px;top:802.9px;">884.848</div>
<div class="abs light" style="left:339px;top:821.3px;width:34.7px;height:16.4px;"></div>
<div class="abs light" style="left:376.3px;top:821.3px;width:216.9px;height:16.4px;"></div>
<div class="abs light" style="left:595.4px;top:821.3px;width:71.6px;height:16.4px;"></div>
<div class="c tx" style="left:339px;width:34.69999999999999px;top:821.3px;">23</div>
<div class="abs tx song" style="left:378px;top:821.3px;">电机端联轴器</div>
<div class="abs tx en" style="left:462.5px;top:821.3px;">Motor coupling</div>
<div class="c tx" style="left:595.4px;width:71.60000000000002px;top:821.3px;">883.833</div>
</body></html>
